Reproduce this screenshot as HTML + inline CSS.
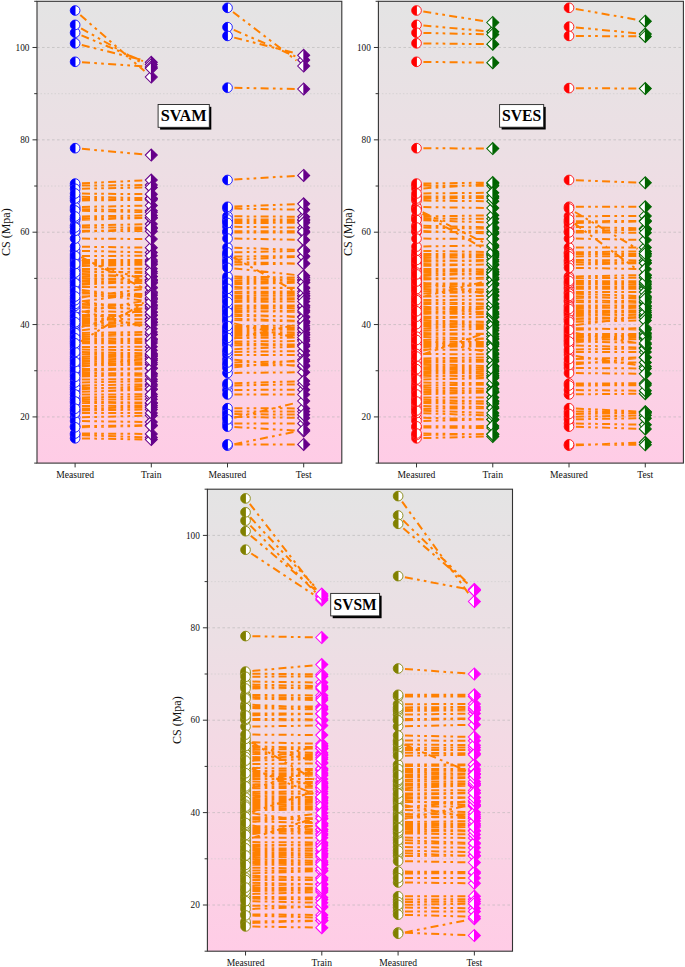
<!DOCTYPE html><html><head><meta charset="utf-8"><style>html,body{margin:0;padding:0;background:#fff;width:685px;height:967px;overflow:hidden}svg{display:block}text{font-family:"Liberation Serif",serif}</style></head><body>
<svg width="685" height="967" viewBox="0 0 685 967">
<svg width="0" height="0" style="position:absolute"><defs><g id="c_0000ff"><circle r="4.85" fill="#fff"/><path d="M0.4 -4.833A4.85 4.85 0 1 0 0.4 4.833Z" fill="#0000ff"/><circle r="4.85" fill="none" stroke="#0000ff" stroke-width="0.85"/></g><g id="d_66008a"><path d="M-6.0 0L0 -6.0L6.0 0L0 6.0Z" fill="#fff"/><path d="M-0.4 -5.6L0 -6.0L6.0 0L0 6.0L-0.4 5.6Z" fill="#66008a"/><path d="M0 -6.0L6.0 0L0 6.0L-6.0 0Z" fill="none" stroke="#66008a" stroke-width="1.05"/></g><g id="c_ff0000"><circle r="4.85" fill="#fff"/><path d="M0.4 -4.833A4.85 4.85 0 1 0 0.4 4.833Z" fill="#ff0000"/><circle r="4.85" fill="none" stroke="#ff0000" stroke-width="0.85"/></g><g id="d_006400"><path d="M-6.0 0L0 -6.0L6.0 0L0 6.0Z" fill="#fff"/><path d="M-0.4 -5.6L0 -6.0L6.0 0L0 6.0L-0.4 5.6Z" fill="#006400"/><path d="M0 -6.0L6.0 0L0 6.0L-6.0 0Z" fill="none" stroke="#006400" stroke-width="1.05"/></g><g id="c_808000"><circle r="4.85" fill="#fff"/><path d="M0.4 -4.833A4.85 4.85 0 1 0 0.4 4.833Z" fill="#808000"/><circle r="4.85" fill="none" stroke="#808000" stroke-width="0.85"/></g><g id="d_ff00ff"><path d="M-6.0 0L0 -6.0L6.0 0L0 6.0Z" fill="#fff"/><path d="M-0.4 -5.6L0 -6.0L6.0 0L0 6.0L-0.4 5.6Z" fill="#ff00ff"/><path d="M0 -6.0L6.0 0L0 6.0L-6.0 0Z" fill="none" stroke="#ff00ff" stroke-width="1.05"/></g></defs></svg>
<defs><linearGradient id="bg" x1="0" y1="0" x2="0" y2="1"><stop offset="0" stop-color="#e4e4e4"/><stop offset="0.33" stop-color="rgb(236,223,228)"/><stop offset="0.65" stop-color="rgb(247,215,228)"/><stop offset="1" stop-color="#ffcce6"/></linearGradient>
</defs>
<rect x="37.0" y="1.3" width="304.80" height="461.80" fill="url(#bg)"/>
<line x1="37.0" y1="416.92" x2="341.8" y2="416.92" stroke="#b0b0b0" stroke-width="0.55" stroke-dasharray="2.6 2.4"/>
<line x1="37.0" y1="370.74" x2="341.8" y2="370.74" stroke="#c8c8c8" stroke-width="0.55" stroke-dasharray="1.5 2"/>
<line x1="37.0" y1="324.56" x2="341.8" y2="324.56" stroke="#b0b0b0" stroke-width="0.55" stroke-dasharray="2.6 2.4"/>
<line x1="37.0" y1="278.38" x2="341.8" y2="278.38" stroke="#c8c8c8" stroke-width="0.55" stroke-dasharray="1.5 2"/>
<line x1="37.0" y1="232.20" x2="341.8" y2="232.20" stroke="#b0b0b0" stroke-width="0.55" stroke-dasharray="2.6 2.4"/>
<line x1="37.0" y1="186.02" x2="341.8" y2="186.02" stroke="#c8c8c8" stroke-width="0.55" stroke-dasharray="1.5 2"/>
<line x1="37.0" y1="139.84" x2="341.8" y2="139.84" stroke="#b0b0b0" stroke-width="0.55" stroke-dasharray="2.6 2.4"/>
<line x1="37.0" y1="93.66" x2="341.8" y2="93.66" stroke="#c8c8c8" stroke-width="0.55" stroke-dasharray="1.5 2"/>
<line x1="37.0" y1="47.48" x2="341.8" y2="47.48" stroke="#b0b0b0" stroke-width="0.55" stroke-dasharray="2.6 2.4"/>
<rect x="378.4" y="1.3" width="305.00" height="461.80" fill="url(#bg)"/>
<line x1="378.4" y1="416.92" x2="683.4" y2="416.92" stroke="#b0b0b0" stroke-width="0.55" stroke-dasharray="2.6 2.4"/>
<line x1="378.4" y1="370.74" x2="683.4" y2="370.74" stroke="#c8c8c8" stroke-width="0.55" stroke-dasharray="1.5 2"/>
<line x1="378.4" y1="324.56" x2="683.4" y2="324.56" stroke="#b0b0b0" stroke-width="0.55" stroke-dasharray="2.6 2.4"/>
<line x1="378.4" y1="278.38" x2="683.4" y2="278.38" stroke="#c8c8c8" stroke-width="0.55" stroke-dasharray="1.5 2"/>
<line x1="378.4" y1="232.20" x2="683.4" y2="232.20" stroke="#b0b0b0" stroke-width="0.55" stroke-dasharray="2.6 2.4"/>
<line x1="378.4" y1="186.02" x2="683.4" y2="186.02" stroke="#c8c8c8" stroke-width="0.55" stroke-dasharray="1.5 2"/>
<line x1="378.4" y1="139.84" x2="683.4" y2="139.84" stroke="#b0b0b0" stroke-width="0.55" stroke-dasharray="2.6 2.4"/>
<line x1="378.4" y1="93.66" x2="683.4" y2="93.66" stroke="#c8c8c8" stroke-width="0.55" stroke-dasharray="1.5 2"/>
<line x1="378.4" y1="47.48" x2="683.4" y2="47.48" stroke="#b0b0b0" stroke-width="0.55" stroke-dasharray="2.6 2.4"/>
<rect x="207.4" y="489.2" width="305.10" height="462.00" fill="url(#bg)"/>
<line x1="207.4" y1="905.00" x2="512.5" y2="905.00" stroke="#b0b0b0" stroke-width="0.55" stroke-dasharray="2.6 2.4"/>
<line x1="207.4" y1="858.80" x2="512.5" y2="858.80" stroke="#c8c8c8" stroke-width="0.55" stroke-dasharray="1.5 2"/>
<line x1="207.4" y1="812.60" x2="512.5" y2="812.60" stroke="#b0b0b0" stroke-width="0.55" stroke-dasharray="2.6 2.4"/>
<line x1="207.4" y1="766.40" x2="512.5" y2="766.40" stroke="#c8c8c8" stroke-width="0.55" stroke-dasharray="1.5 2"/>
<line x1="207.4" y1="720.20" x2="512.5" y2="720.20" stroke="#b0b0b0" stroke-width="0.55" stroke-dasharray="2.6 2.4"/>
<line x1="207.4" y1="674.00" x2="512.5" y2="674.00" stroke="#c8c8c8" stroke-width="0.55" stroke-dasharray="1.5 2"/>
<line x1="207.4" y1="627.80" x2="512.5" y2="627.80" stroke="#b0b0b0" stroke-width="0.55" stroke-dasharray="2.6 2.4"/>
<line x1="207.4" y1="581.60" x2="512.5" y2="581.60" stroke="#c8c8c8" stroke-width="0.55" stroke-dasharray="1.5 2"/>
<line x1="207.4" y1="535.40" x2="512.5" y2="535.40" stroke="#b0b0b0" stroke-width="0.55" stroke-dasharray="2.6 2.4"/>
<path d="M82.0 183.3L142.3 180.5M82.0 185.6L142.3 185.1M82.0 188.7L142.3 187.6M82.0 193.6L142.3 194.1M82.0 196.7L142.3 198.1M82.0 198.5L142.3 198.6M82.0 200.4L142.3 199.9M82.0 206.9L142.3 205.7M82.0 209.2L142.3 210.5M82.0 210.7L142.3 212.1M82.0 216.4L142.3 215.6M82.0 218.4L142.3 217.9M82.0 219.8L142.3 218.1M82.0 225.4L142.3 224.3M82.0 227.5L142.3 227.6M82.0 230.8L142.3 231.1M82.0 231.7L142.3 228.9M82.0 238.6L142.3 239.0M82.0 246.7L142.3 247.6M82.0 250.9L142.3 252.2M81.3 257.1L143.2 288.0M82.0 256.0L142.3 255.8M81.7 260.1L142.7 279.3M82.0 260.0L142.3 260.1M82.0 262.0L142.3 261.7M82.0 263.9L142.3 263.2M82.0 265.9L142.3 264.7M82.0 269.0L142.3 268.7M82.0 271.0L142.3 273.0M82.0 272.5L142.3 271.7M82.0 274.6L142.3 276.1M82.0 276.2L142.3 276.4M82.0 278.2L142.3 279.8M82.0 279.8L142.3 279.8M82.0 281.6L142.3 282.5M82.0 283.2L142.3 282.9M82.0 284.7L142.3 281.1M82.0 287.1L142.3 287.2M81.9 289.9L142.4 297.4M81.9 292.0L142.4 300.6M82.0 293.5L142.3 293.9M82.0 296.4L142.3 295.7M81.9 297.4L142.4 289.1M81.9 301.3L142.4 310.8M82.0 301.2L142.4 293.9M82.0 304.0L142.3 305.1M82.0 305.7L142.3 305.1M82.0 307.7L142.3 308.6M81.8 311.1L142.6 326.6M82.0 311.4L142.3 311.9M81.9 311.9L142.4 301.3M82.0 315.0L142.3 315.0M82.0 316.6L142.3 315.5M82.0 318.6L142.3 319.3M82.0 320.3L142.3 319.2M82.0 322.3L142.3 322.4M82.0 324.0L142.3 322.6M82.0 325.9L142.3 325.2M81.7 327.1L142.7 309.4M82.0 330.2L142.4 323.1M82.0 332.9L142.3 332.1M82.0 334.9L142.3 334.4M82.0 336.5L142.3 334.7M82.0 338.4L142.3 338.8M82.0 339.9L142.3 339.3M82.0 341.6L142.3 341.0M82.0 343.3L142.3 343.0M81.0 341.4L143.6 302.7M82.0 347.0L142.3 346.8M82.0 349.6L142.3 350.2M82.0 352.1L142.3 353.2M82.0 354.0L142.3 354.5M82.0 356.4L142.3 355.8M82.0 358.3L142.3 356.7M82.0 360.1L142.3 359.1M82.0 361.9L142.3 360.7M82.0 363.7L142.3 362.9M82.0 365.5L142.3 364.7M82.0 366.6L142.4 359.5M82.0 369.1L142.3 368.3M82.0 370.9L142.3 368.9M82.0 373.0L142.3 373.4M82.0 375.0L142.3 375.7M82.0 376.6L142.3 374.4M82.0 379.5L142.3 379.2M82.0 382.4L142.3 381.3M82.0 385.4L142.3 384.4M82.0 387.6L142.3 388.9M82.0 389.2L142.3 386.5M82.0 391.8L142.3 389.8M82.0 394.5L142.3 394.3M82.0 397.4L142.3 396.6M82.0 399.5L142.3 399.3M82.0 401.6L142.3 402.6M82.0 403.0L142.3 403.1M82.0 406.0L142.3 405.5M82.0 408.6L142.3 407.3M82.0 410.4L142.3 409.6M82.0 413.0L142.3 412.9M82.0 417.3L142.3 415.8M82.0 421.1L142.3 421.9M82.0 426.2L142.3 425.3M82.0 427.2L142.3 425.9M82.0 433.5L142.3 433.9M82.0 435.2L142.3 437.2M82.0 438.4L142.3 439.4M80.3 15.1L144.5 71.1M81.1 28.3L143.5 63.8M81.5 35.4L143.0 61.1M81.8 45.0L142.6 60.1M82.0 62.3L142.3 66.3M82.0 148.8L142.3 154.3" stroke="#ff8000" stroke-width="2" fill="none" stroke-dasharray="8 4.3 2.7 4.2 2.7 4.3"/>
<use href="#c_0000ff" x="75.1" y="392.0"/><use href="#c_0000ff" x="75.1" y="307.6"/><use href="#c_0000ff" x="75.1" y="313.1"/><use href="#c_0000ff" x="75.1" y="287.1"/><use href="#c_0000ff" x="75.1" y="209.0"/><use href="#c_0000ff" x="75.1" y="336.7"/><use href="#c_0000ff" x="75.1" y="196.5"/><use href="#c_0000ff" x="75.1" y="365.6"/><use href="#c_0000ff" x="75.1" y="385.5"/><use href="#c_0000ff" x="75.1" y="435.0"/><use href="#c_0000ff" x="75.1" y="302.1"/><use href="#c_0000ff" x="75.1" y="426.3"/><use href="#c_0000ff" x="75.1" y="335.0"/><use href="#c_0000ff" x="75.1" y="367.4"/><use href="#c_0000ff" x="75.1" y="438.3"/><use href="#c_0000ff" x="75.1" y="315.0"/><use href="#c_0000ff" x="75.1" y="254.0"/><use href="#c_0000ff" x="75.1" y="311.3"/><use href="#c_0000ff" x="75.1" y="43.3"/><use href="#c_0000ff" x="75.1" y="279.8"/><use href="#c_0000ff" x="75.1" y="298.4"/><use href="#c_0000ff" x="75.1" y="185.6"/><use href="#c_0000ff" x="75.1" y="329.0"/><use href="#c_0000ff" x="75.1" y="340.0"/><use href="#c_0000ff" x="75.1" y="433.5"/><use href="#c_0000ff" x="75.1" y="399.5"/><use href="#c_0000ff" x="75.1" y="358.5"/><use href="#c_0000ff" x="75.1" y="258.0"/><use href="#c_0000ff" x="75.1" y="326.0"/><use href="#c_0000ff" x="75.1" y="373.0"/><use href="#c_0000ff" x="75.1" y="225.5"/><use href="#c_0000ff" x="75.1" y="354.0"/><use href="#c_0000ff" x="75.1" y="379.5"/><use href="#c_0000ff" x="75.1" y="32.7"/><use href="#c_0000ff" x="75.1" y="389.5"/><use href="#c_0000ff" x="75.1" y="274.4"/><use href="#c_0000ff" x="75.1" y="10.5"/><use href="#c_0000ff" x="75.1" y="331.0"/><use href="#c_0000ff" x="75.1" y="417.5"/><use href="#c_0000ff" x="75.1" y="266.0"/><use href="#c_0000ff" x="75.1" y="397.5"/><use href="#c_0000ff" x="75.1" y="387.5"/><use href="#c_0000ff" x="75.1" y="289.1"/><use href="#c_0000ff" x="75.1" y="360.2"/><use href="#c_0000ff" x="75.1" y="183.6"/><use href="#c_0000ff" x="75.1" y="320.4"/><use href="#c_0000ff" x="75.1" y="363.8"/><use href="#c_0000ff" x="75.1" y="270.8"/><use href="#c_0000ff" x="75.1" y="309.4"/><use href="#c_0000ff" x="75.1" y="305.8"/><use href="#c_0000ff" x="75.1" y="148.2"/><use href="#c_0000ff" x="75.1" y="394.5"/><use href="#c_0000ff" x="75.1" y="260.0"/><use href="#c_0000ff" x="75.1" y="410.5"/><use href="#c_0000ff" x="75.1" y="269.0"/><use href="#c_0000ff" x="75.1" y="61.8"/><use href="#c_0000ff" x="75.1" y="371.1"/><use href="#c_0000ff" x="75.1" y="220.0"/><use href="#c_0000ff" x="75.1" y="218.5"/><use href="#c_0000ff" x="75.1" y="200.5"/><use href="#c_0000ff" x="75.1" y="262.0"/><use href="#c_0000ff" x="75.1" y="250.8"/><use href="#c_0000ff" x="75.1" y="303.9"/><use href="#c_0000ff" x="75.1" y="345.0"/><use href="#c_0000ff" x="75.1" y="382.5"/><use href="#c_0000ff" x="75.1" y="347.0"/><use href="#c_0000ff" x="75.1" y="281.5"/><use href="#c_0000ff" x="75.1" y="278.0"/><use href="#c_0000ff" x="75.1" y="285.1"/><use href="#c_0000ff" x="75.1" y="276.2"/><use href="#c_0000ff" x="75.1" y="324.1"/><use href="#c_0000ff" x="75.1" y="318.6"/><use href="#c_0000ff" x="75.1" y="246.6"/><use href="#c_0000ff" x="75.1" y="421.0"/><use href="#c_0000ff" x="75.1" y="207.0"/><use href="#c_0000ff" x="75.1" y="374.9"/><use href="#c_0000ff" x="75.1" y="369.2"/><use href="#c_0000ff" x="75.1" y="333.0"/><use href="#c_0000ff" x="75.1" y="210.5"/><use href="#c_0000ff" x="75.1" y="256.0"/><use href="#c_0000ff" x="75.1" y="216.5"/><use href="#c_0000ff" x="75.1" y="198.5"/><use href="#c_0000ff" x="75.1" y="293.5"/><use href="#c_0000ff" x="75.1" y="356.5"/><use href="#c_0000ff" x="75.1" y="341.7"/><use href="#c_0000ff" x="75.1" y="232.0"/><use href="#c_0000ff" x="75.1" y="283.2"/><use href="#c_0000ff" x="75.1" y="338.3"/><use href="#c_0000ff" x="75.1" y="403.0"/><use href="#c_0000ff" x="75.1" y="316.7"/><use href="#c_0000ff" x="75.1" y="188.8"/><use href="#c_0000ff" x="75.1" y="291.0"/><use href="#c_0000ff" x="75.1" y="24.9"/><use href="#c_0000ff" x="75.1" y="362.0"/><use href="#c_0000ff" x="75.1" y="427.3"/><use href="#c_0000ff" x="75.1" y="238.6"/><use href="#c_0000ff" x="75.1" y="272.6"/><use href="#c_0000ff" x="75.1" y="230.8"/><use href="#c_0000ff" x="75.1" y="376.8"/><use href="#c_0000ff" x="75.1" y="193.5"/><use href="#c_0000ff" x="75.1" y="406.0"/><use href="#c_0000ff" x="75.1" y="264.0"/><use href="#c_0000ff" x="75.1" y="349.5"/><use href="#c_0000ff" x="75.1" y="300.2"/><use href="#c_0000ff" x="75.1" y="413.0"/><use href="#c_0000ff" x="75.1" y="352.0"/><use href="#c_0000ff" x="75.1" y="322.3"/><use href="#c_0000ff" x="75.1" y="296.5"/><use href="#c_0000ff" x="75.1" y="227.5"/><use href="#c_0000ff" x="75.1" y="343.3"/><use href="#c_0000ff" x="75.1" y="401.5"/><use href="#c_0000ff" x="75.1" y="408.7"/>
<use href="#d_66008a" x="151.3" y="389.5"/><use href="#d_66008a" x="151.3" y="308.7"/><use href="#d_66008a" x="151.3" y="299.7"/><use href="#d_66008a" x="151.3" y="287.2"/><use href="#d_66008a" x="151.3" y="210.7"/><use href="#d_66008a" x="151.3" y="334.4"/><use href="#d_66008a" x="151.3" y="198.3"/><use href="#d_66008a" x="151.3" y="364.6"/><use href="#d_66008a" x="151.3" y="384.3"/><use href="#d_66008a" x="151.3" y="437.5"/><use href="#d_66008a" x="151.3" y="292.8"/><use href="#d_66008a" x="151.3" y="425.2"/><use href="#d_66008a" x="151.3" y="334.4"/><use href="#d_66008a" x="151.3" y="358.4"/><use href="#d_66008a" x="151.3" y="439.6"/><use href="#d_66008a" x="151.3" y="315.0"/><use href="#d_66008a" x="151.3" y="292.0"/><use href="#d_66008a" x="151.3" y="312.0"/><use href="#d_66008a" x="151.3" y="62.3"/><use href="#d_66008a" x="151.3" y="279.8"/><use href="#d_66008a" x="151.3" y="287.9"/><use href="#d_66008a" x="151.3" y="185.1"/><use href="#d_66008a" x="151.3" y="306.9"/><use href="#d_66008a" x="151.3" y="339.2"/><use href="#d_66008a" x="151.3" y="433.9"/><use href="#d_66008a" x="151.3" y="399.3"/><use href="#d_66008a" x="151.3" y="356.4"/><use href="#d_66008a" x="151.3" y="282.0"/><use href="#d_66008a" x="151.3" y="325.1"/><use href="#d_66008a" x="151.3" y="373.5"/><use href="#d_66008a" x="151.3" y="224.1"/><use href="#d_66008a" x="151.3" y="354.5"/><use href="#d_66008a" x="151.3" y="379.2"/><use href="#d_66008a" x="151.3" y="64.6"/><use href="#d_66008a" x="151.3" y="386.1"/><use href="#d_66008a" x="151.3" y="276.4"/><use href="#d_66008a" x="151.3" y="77.0"/><use href="#d_66008a" x="151.3" y="322.0"/><use href="#d_66008a" x="151.3" y="415.6"/><use href="#d_66008a" x="151.3" y="264.5"/><use href="#d_66008a" x="151.3" y="396.5"/><use href="#d_66008a" x="151.3" y="389.1"/><use href="#d_66008a" x="151.3" y="298.5"/><use href="#d_66008a" x="151.3" y="358.9"/><use href="#d_66008a" x="151.3" y="180.1"/><use href="#d_66008a" x="151.3" y="319.0"/><use href="#d_66008a" x="151.3" y="362.7"/><use href="#d_66008a" x="151.3" y="273.3"/><use href="#d_66008a" x="151.3" y="328.8"/><use href="#d_66008a" x="151.3" y="305.0"/><use href="#d_66008a" x="151.3" y="155.1"/><use href="#d_66008a" x="151.3" y="394.3"/><use href="#d_66008a" x="151.3" y="260.1"/><use href="#d_66008a" x="151.3" y="409.5"/><use href="#d_66008a" x="151.3" y="268.7"/><use href="#d_66008a" x="151.3" y="66.9"/><use href="#d_66008a" x="151.3" y="368.6"/><use href="#d_66008a" x="151.3" y="217.9"/><use href="#d_66008a" x="151.3" y="217.8"/><use href="#d_66008a" x="151.3" y="199.8"/><use href="#d_66008a" x="151.3" y="261.6"/><use href="#d_66008a" x="151.3" y="252.4"/><use href="#d_66008a" x="151.3" y="305.3"/><use href="#d_66008a" x="151.3" y="298.0"/><use href="#d_66008a" x="151.3" y="381.2"/><use href="#d_66008a" x="151.3" y="346.7"/><use href="#d_66008a" x="151.3" y="282.6"/><use href="#d_66008a" x="151.3" y="280.0"/><use href="#d_66008a" x="151.3" y="280.6"/><use href="#d_66008a" x="151.3" y="276.4"/><use href="#d_66008a" x="151.3" y="322.4"/><use href="#d_66008a" x="151.3" y="319.4"/><use href="#d_66008a" x="151.3" y="247.7"/><use href="#d_66008a" x="151.3" y="422.1"/><use href="#d_66008a" x="151.3" y="205.5"/><use href="#d_66008a" x="151.3" y="375.9"/><use href="#d_66008a" x="151.3" y="368.1"/><use href="#d_66008a" x="151.3" y="331.9"/><use href="#d_66008a" x="151.3" y="212.3"/><use href="#d_66008a" x="151.3" y="255.8"/><use href="#d_66008a" x="151.3" y="215.5"/><use href="#d_66008a" x="151.3" y="198.6"/><use href="#d_66008a" x="151.3" y="293.9"/><use href="#d_66008a" x="151.3" y="355.7"/><use href="#d_66008a" x="151.3" y="341.0"/><use href="#d_66008a" x="151.3" y="228.4"/><use href="#d_66008a" x="151.3" y="282.9"/><use href="#d_66008a" x="151.3" y="338.9"/><use href="#d_66008a" x="151.3" y="403.2"/><use href="#d_66008a" x="151.3" y="315.4"/><use href="#d_66008a" x="151.3" y="187.4"/><use href="#d_66008a" x="151.3" y="301.9"/><use href="#d_66008a" x="151.3" y="68.3"/><use href="#d_66008a" x="151.3" y="360.5"/><use href="#d_66008a" x="151.3" y="425.8"/><use href="#d_66008a" x="151.3" y="239.0"/><use href="#d_66008a" x="151.3" y="271.6"/><use href="#d_66008a" x="151.3" y="231.2"/><use href="#d_66008a" x="151.3" y="374.1"/><use href="#d_66008a" x="151.3" y="194.2"/><use href="#d_66008a" x="151.3" y="405.5"/><use href="#d_66008a" x="151.3" y="263.0"/><use href="#d_66008a" x="151.3" y="350.3"/><use href="#d_66008a" x="151.3" y="312.2"/><use href="#d_66008a" x="151.3" y="412.9"/><use href="#d_66008a" x="151.3" y="353.4"/><use href="#d_66008a" x="151.3" y="322.5"/><use href="#d_66008a" x="151.3" y="295.6"/><use href="#d_66008a" x="151.3" y="227.6"/><use href="#d_66008a" x="151.3" y="342.9"/><use href="#d_66008a" x="151.3" y="402.7"/><use href="#d_66008a" x="151.3" y="407.2"/>
<path d="M234.4 206.5L294.7 204.2M234.4 208.6L294.7 209.6M234.4 216.3L294.7 216.7M234.4 219.5L294.7 219.4M234.4 221.2L294.7 220.7M234.4 223.0L294.7 222.8M234.4 226.8L294.7 227.6M234.4 231.2L294.7 231.3M234.4 232.4L294.7 232.5M234.4 238.6L294.7 239.7M234.4 247.7L294.7 249.8M234.4 252.3L294.7 251.1M233.5 257.3L295.8 291.7M234.4 256.4L294.7 256.3M234.4 259.7L294.7 257.0M234.4 262.1L294.7 263.4M234.4 264.6L294.7 263.7M234.4 268.5L294.7 274.9M234.4 276.6L294.7 277.5M234.4 278.4L294.7 279.7M234.4 280.9L294.7 280.2M234.4 282.7L294.7 282.3M234.4 284.2L294.7 282.7M234.4 287.1L294.7 288.0M234.4 288.7L294.7 287.7M234.4 291.9L294.7 291.5M234.4 293.5L294.7 293.5M234.4 296.0L294.7 295.6M234.4 298.0L294.7 298.3M234.4 300.3L294.7 299.0M234.4 301.9L294.7 301.5M234.4 305.5L294.7 305.6M234.4 306.9L294.7 306.1M234.4 308.9L294.7 308.0M234.4 310.9L294.7 311.8M234.4 312.1L294.7 310.6M234.4 314.3L294.7 316.9M234.4 316.0L294.7 316.4M234.4 318.7L294.7 320.8M234.4 320.0L294.7 321.3M234.2 323.4L294.9 337.6M234.4 326.0L294.7 325.8M234.4 328.0L294.7 328.1M234.4 330.0L294.7 329.7M234.4 332.0L294.7 332.4M234.4 334.0L294.7 334.3M234.4 335.9L294.7 335.0M234.4 338.0L294.7 337.6M234.2 338.5L294.9 325.0M234.4 341.5L294.7 341.1M234.4 343.6L294.7 344.6M234.4 345.3L294.7 345.0M234.4 349.2L294.7 346.7M234.4 351.9L294.7 351.2M234.4 355.0L294.7 355.1M234.4 359.7L294.7 365.8M234.4 362.4L294.7 361.4M234.4 365.0L294.7 365.3M234.4 367.3L294.8 360.7M234.4 372.9L294.7 372.3M234.4 383.3L294.7 381.4M234.4 385.4L294.7 384.4M234.4 390.0L294.7 389.7M234.4 394.4L294.7 394.5M234.4 408.2L294.7 408.4M234.4 411.5L294.7 411.5M234.4 414.1L294.7 414.6M234.4 416.9L294.7 417.8M234.2 417.8L295.0 403.1M234.4 423.4L294.7 423.4M234.4 427.0L294.7 430.5M234.4 444.4L294.7 444.4M234.3 444.2L294.9 431.8M233.0 12.0L296.5 60.5M233.8 29.9L295.4 56.4M234.2 37.6L295.0 53.1M234.4 87.8L294.7 88.9M234.4 179.6L294.7 175.9" stroke="#ff8000" stroke-width="2" fill="none" stroke-dasharray="8 4.3 2.7 4.2 2.7 4.3"/>
<use href="#c_0000ff" x="227.5" y="336.0"/><use href="#c_0000ff" x="227.5" y="423.4"/><use href="#c_0000ff" x="227.5" y="426.6"/><use href="#c_0000ff" x="227.5" y="221.3"/><use href="#c_0000ff" x="227.5" y="216.2"/><use href="#c_0000ff" x="227.5" y="411.5"/><use href="#c_0000ff" x="227.5" y="390.0"/><use href="#c_0000ff" x="227.5" y="278.3"/><use href="#c_0000ff" x="227.5" y="256.4"/><use href="#c_0000ff" x="227.5" y="385.5"/><use href="#c_0000ff" x="227.5" y="316.0"/><use href="#c_0000ff" x="227.5" y="328.0"/><use href="#c_0000ff" x="227.5" y="359.0"/><use href="#c_0000ff" x="227.5" y="373.0"/><use href="#c_0000ff" x="227.5" y="254.0"/><use href="#c_0000ff" x="227.5" y="300.5"/><use href="#c_0000ff" x="227.5" y="292.0"/><use href="#c_0000ff" x="227.5" y="332.0"/><use href="#c_0000ff" x="227.5" y="232.4"/><use href="#c_0000ff" x="227.5" y="340.0"/><use href="#c_0000ff" x="227.5" y="281.0"/><use href="#c_0000ff" x="227.5" y="334.0"/><use href="#c_0000ff" x="227.5" y="284.4"/><use href="#c_0000ff" x="227.5" y="355.0"/><use href="#c_0000ff" x="227.5" y="309.0"/><use href="#c_0000ff" x="227.5" y="226.7"/><use href="#c_0000ff" x="227.5" y="445.6"/><use href="#c_0000ff" x="227.5" y="307.0"/><use href="#c_0000ff" x="227.5" y="287.0"/><use href="#c_0000ff" x="227.5" y="296.0"/><use href="#c_0000ff" x="227.5" y="321.8"/><use href="#c_0000ff" x="227.5" y="180.0"/><use href="#c_0000ff" x="227.5" y="208.5"/><use href="#c_0000ff" x="227.5" y="87.7"/><use href="#c_0000ff" x="227.5" y="231.2"/><use href="#c_0000ff" x="227.5" y="352.0"/><use href="#c_0000ff" x="227.5" y="276.5"/><use href="#c_0000ff" x="227.5" y="219.5"/><use href="#c_0000ff" x="227.5" y="416.8"/><use href="#c_0000ff" x="227.5" y="444.4"/><use href="#c_0000ff" x="227.5" y="293.5"/><use href="#c_0000ff" x="227.5" y="365.0"/><use href="#c_0000ff" x="227.5" y="345.3"/><use href="#c_0000ff" x="227.5" y="408.2"/><use href="#c_0000ff" x="227.5" y="383.5"/><use href="#c_0000ff" x="227.5" y="298.0"/><use href="#c_0000ff" x="227.5" y="260.0"/><use href="#c_0000ff" x="227.5" y="27.2"/><use href="#c_0000ff" x="227.5" y="264.7"/><use href="#c_0000ff" x="227.5" y="247.5"/><use href="#c_0000ff" x="227.5" y="238.5"/><use href="#c_0000ff" x="227.5" y="206.8"/><use href="#c_0000ff" x="227.5" y="414.0"/><use href="#c_0000ff" x="227.5" y="252.4"/><use href="#c_0000ff" x="227.5" y="319.8"/><use href="#c_0000ff" x="227.5" y="262.0"/><use href="#c_0000ff" x="227.5" y="343.5"/><use href="#c_0000ff" x="227.5" y="282.7"/><use href="#c_0000ff" x="227.5" y="310.8"/><use href="#c_0000ff" x="227.5" y="368.0"/><use href="#c_0000ff" x="227.5" y="330.0"/><use href="#c_0000ff" x="227.5" y="314.0"/><use href="#c_0000ff" x="227.5" y="362.5"/><use href="#c_0000ff" x="227.5" y="419.4"/><use href="#c_0000ff" x="227.5" y="7.8"/><use href="#c_0000ff" x="227.5" y="305.5"/><use href="#c_0000ff" x="227.5" y="318.5"/><use href="#c_0000ff" x="227.5" y="326.0"/><use href="#c_0000ff" x="227.5" y="223.0"/><use href="#c_0000ff" x="227.5" y="288.8"/><use href="#c_0000ff" x="227.5" y="341.5"/><use href="#c_0000ff" x="227.5" y="267.8"/><use href="#c_0000ff" x="227.5" y="312.3"/><use href="#c_0000ff" x="227.5" y="302.0"/><use href="#c_0000ff" x="227.5" y="349.5"/><use href="#c_0000ff" x="227.5" y="394.4"/><use href="#c_0000ff" x="227.5" y="338.0"/><use href="#c_0000ff" x="227.5" y="35.9"/>
<use href="#d_66008a" x="303.7" y="334.9"/><use href="#d_66008a" x="303.7" y="423.4"/><use href="#d_66008a" x="303.7" y="431.0"/><use href="#d_66008a" x="303.7" y="220.7"/><use href="#d_66008a" x="303.7" y="216.8"/><use href="#d_66008a" x="303.7" y="411.5"/><use href="#d_66008a" x="303.7" y="389.7"/><use href="#d_66008a" x="303.7" y="279.9"/><use href="#d_66008a" x="303.7" y="256.3"/><use href="#d_66008a" x="303.7" y="384.2"/><use href="#d_66008a" x="303.7" y="316.5"/><use href="#d_66008a" x="303.7" y="328.1"/><use href="#d_66008a" x="303.7" y="366.6"/><use href="#d_66008a" x="303.7" y="372.2"/><use href="#d_66008a" x="303.7" y="296.0"/><use href="#d_66008a" x="303.7" y="298.8"/><use href="#d_66008a" x="303.7" y="291.4"/><use href="#d_66008a" x="303.7" y="332.4"/><use href="#d_66008a" x="303.7" y="232.5"/><use href="#d_66008a" x="303.7" y="323.1"/><use href="#d_66008a" x="303.7" y="280.1"/><use href="#d_66008a" x="303.7" y="334.3"/><use href="#d_66008a" x="303.7" y="282.4"/><use href="#d_66008a" x="303.7" y="355.1"/><use href="#d_66008a" x="303.7" y="307.8"/><use href="#d_66008a" x="303.7" y="227.8"/><use href="#d_66008a" x="303.7" y="430.0"/><use href="#d_66008a" x="303.7" y="306.0"/><use href="#d_66008a" x="303.7" y="288.2"/><use href="#d_66008a" x="303.7" y="295.6"/><use href="#d_66008a" x="303.7" y="339.6"/><use href="#d_66008a" x="303.7" y="175.4"/><use href="#d_66008a" x="303.7" y="209.8"/><use href="#d_66008a" x="303.7" y="89.0"/><use href="#d_66008a" x="303.7" y="231.3"/><use href="#d_66008a" x="303.7" y="351.1"/><use href="#d_66008a" x="303.7" y="277.6"/><use href="#d_66008a" x="303.7" y="219.4"/><use href="#d_66008a" x="303.7" y="418.0"/><use href="#d_66008a" x="303.7" y="444.4"/><use href="#d_66008a" x="303.7" y="293.5"/><use href="#d_66008a" x="303.7" y="365.3"/><use href="#d_66008a" x="303.7" y="344.9"/><use href="#d_66008a" x="303.7" y="408.4"/><use href="#d_66008a" x="303.7" y="381.1"/><use href="#d_66008a" x="303.7" y="298.3"/><use href="#d_66008a" x="303.7" y="256.6"/><use href="#d_66008a" x="303.7" y="59.9"/><use href="#d_66008a" x="303.7" y="263.6"/><use href="#d_66008a" x="303.7" y="250.1"/><use href="#d_66008a" x="303.7" y="239.9"/><use href="#d_66008a" x="303.7" y="203.8"/><use href="#d_66008a" x="303.7" y="414.7"/><use href="#d_66008a" x="303.7" y="251.0"/><use href="#d_66008a" x="303.7" y="321.5"/><use href="#d_66008a" x="303.7" y="263.6"/><use href="#d_66008a" x="303.7" y="344.8"/><use href="#d_66008a" x="303.7" y="282.3"/><use href="#d_66008a" x="303.7" y="311.9"/><use href="#d_66008a" x="303.7" y="359.7"/><use href="#d_66008a" x="303.7" y="329.7"/><use href="#d_66008a" x="303.7" y="317.3"/><use href="#d_66008a" x="303.7" y="361.3"/><use href="#d_66008a" x="303.7" y="401.0"/><use href="#d_66008a" x="303.7" y="66.0"/><use href="#d_66008a" x="303.7" y="305.6"/><use href="#d_66008a" x="303.7" y="321.2"/><use href="#d_66008a" x="303.7" y="325.8"/><use href="#d_66008a" x="303.7" y="222.8"/><use href="#d_66008a" x="303.7" y="287.5"/><use href="#d_66008a" x="303.7" y="341.1"/><use href="#d_66008a" x="303.7" y="275.8"/><use href="#d_66008a" x="303.7" y="310.3"/><use href="#d_66008a" x="303.7" y="301.4"/><use href="#d_66008a" x="303.7" y="346.4"/><use href="#d_66008a" x="303.7" y="394.5"/><use href="#d_66008a" x="303.7" y="337.5"/><use href="#d_66008a" x="303.7" y="55.3"/>
<path d="M423.4 183.5L483.8 182.7M423.4 185.6L483.8 185.8M423.4 188.4L483.8 184.4M423.4 193.4L483.8 192.8M423.4 196.5L483.8 196.3M423.4 198.4L483.8 197.9M423.4 200.6L483.8 201.2M423.4 207.1L483.8 207.9M422.7 212.1L484.7 243.0M422.5 213.9L484.9 249.1M423.4 216.4L483.8 215.5M423.4 218.5L483.8 218.8M423.4 220.2L483.8 222.3M423.4 225.7L483.8 227.2M423.4 227.6L483.8 228.6M423.4 231.1L483.8 233.3M423.4 232.0L483.8 232.1M423.4 238.6L483.8 239.0M423.4 246.5L483.8 245.4M423.4 250.9L483.8 251.9M423.4 254.0L483.8 254.3M423.4 255.9L483.8 255.3M423.4 257.9L483.8 257.1M423.4 260.1L483.8 261.3M423.4 261.8L483.8 260.1M423.4 264.1L483.8 264.8M423.4 265.8L483.8 264.5M423.4 269.0L483.8 269.4M423.4 270.9L483.8 271.3M423.4 272.8L483.8 274.2M423.4 274.4L483.8 274.6M423.4 275.9L483.8 273.1M423.4 278.1L483.8 278.8M423.4 279.6L483.8 277.8M423.3 282.7L483.9 293.7M423.4 283.3L483.8 283.7M423.4 285.0L483.8 283.7M423.4 286.9L483.8 285.3M423.4 289.1L483.8 289.4M423.4 291.1L483.8 291.7M423.4 293.4L483.8 292.1M423.4 296.5L483.8 296.0M423.2 296.7L484.0 281.7M423.4 300.1L483.8 299.6M423.4 302.2L483.8 303.5M423.4 303.9L483.8 304.0M423.4 306.5L483.8 312.8M423.4 307.5L483.8 306.6M423.4 309.4L483.8 308.5M423.4 311.4L483.8 311.8M423.4 313.3L483.8 314.3M423.4 314.3L483.8 308.4M423.4 316.7L483.8 317.2M423.4 318.4L483.8 317.0M423.4 320.5L483.8 321.7M423.4 322.3L483.8 322.6M423.4 324.2L483.8 324.8M423.4 326.1L483.8 327.3M423.4 328.6L483.8 325.5M423.4 330.8L483.8 328.8M423.4 333.1L483.8 333.8M423.4 334.9L483.8 334.0M423.4 336.9L483.8 339.0M423.3 339.7L483.9 351.5M423.4 339.9L483.8 338.6M423.4 341.7L483.8 342.1M423.4 343.4L483.8 343.8M423.4 345.0L483.8 344.7M423.4 346.9L483.8 346.4M423.4 349.5L483.8 350.0M423.3 350.6L484.0 338.3M423.4 354.0L483.8 354.3M423.1 354.3L484.3 333.4M423.4 358.4L483.8 357.5M423.4 360.2L483.8 360.1M423.4 362.0L483.8 361.7M423.4 364.0L483.8 365.9M423.4 365.6L483.8 366.1M423.4 367.5L483.8 367.9M423.4 369.3L483.8 369.9M423.4 371.1L483.8 371.2M423.4 373.0L483.8 373.4M423.4 375.1L483.8 376.8M423.4 376.7L483.8 375.6M423.4 379.4L483.8 378.3M423.4 382.6L483.8 383.1M423.4 385.4L483.8 384.7M423.4 387.6L483.8 388.7M423.4 389.7L483.8 391.1M423.4 392.0L483.8 392.2M423.4 394.3L483.8 392.5M423.4 397.5L483.8 397.6M423.4 399.7L483.8 401.4M423.4 401.5L483.8 401.2M423.4 403.1L483.8 403.7M423.4 406.1L483.8 406.9M423.4 408.7L483.8 408.2M423.4 410.7L483.8 412.7M423.4 413.2L483.8 415.3M423.4 417.7L483.8 419.3M423.4 420.9L483.8 419.6M423.4 426.3L483.8 426.1M423.4 427.4L483.8 428.0M423.4 433.6L483.8 434.3M423.4 434.9L483.8 434.1M423.4 438.1L483.8 436.6M423.3 11.6L483.9 21.1M423.4 25.5L483.8 31.0M423.4 32.9L483.8 34.3M423.4 43.4L483.8 44.1M423.4 61.9L483.8 62.6M423.4 148.2L483.8 148.6" stroke="#ff8000" stroke-width="2" fill="none" stroke-dasharray="8 4.3 2.7 4.2 2.7 4.3"/>
<use href="#c_ff0000" x="416.5" y="331.0"/><use href="#c_ff0000" x="416.5" y="363.8"/><use href="#c_ff0000" x="416.5" y="374.9"/><use href="#c_ff0000" x="416.5" y="285.1"/><use href="#c_ff0000" x="416.5" y="262.0"/><use href="#c_ff0000" x="416.5" y="335.0"/><use href="#c_ff0000" x="416.5" y="24.9"/><use href="#c_ff0000" x="416.5" y="291.0"/><use href="#c_ff0000" x="416.5" y="338.3"/><use href="#c_ff0000" x="416.5" y="320.4"/><use href="#c_ff0000" x="416.5" y="399.5"/><use href="#c_ff0000" x="416.5" y="307.6"/><use href="#c_ff0000" x="416.5" y="309.4"/><use href="#c_ff0000" x="416.5" y="296.5"/><use href="#c_ff0000" x="416.5" y="326.0"/><use href="#c_ff0000" x="416.5" y="269.0"/><use href="#c_ff0000" x="416.5" y="254.0"/><use href="#c_ff0000" x="416.5" y="345.0"/><use href="#c_ff0000" x="416.5" y="279.8"/><use href="#c_ff0000" x="416.5" y="392.0"/><use href="#c_ff0000" x="416.5" y="185.6"/><use href="#c_ff0000" x="416.5" y="352.0"/><use href="#c_ff0000" x="416.5" y="417.5"/><use href="#c_ff0000" x="416.5" y="403.0"/><use href="#c_ff0000" x="416.5" y="209.0"/><use href="#c_ff0000" x="416.5" y="218.5"/><use href="#c_ff0000" x="416.5" y="362.0"/><use href="#c_ff0000" x="416.5" y="358.5"/><use href="#c_ff0000" x="416.5" y="32.7"/><use href="#c_ff0000" x="416.5" y="293.5"/><use href="#c_ff0000" x="416.5" y="385.5"/><use href="#c_ff0000" x="416.5" y="427.3"/><use href="#c_ff0000" x="416.5" y="278.0"/><use href="#c_ff0000" x="416.5" y="188.8"/><use href="#c_ff0000" x="416.5" y="421.0"/><use href="#c_ff0000" x="416.5" y="376.8"/><use href="#c_ff0000" x="416.5" y="43.3"/><use href="#c_ff0000" x="416.5" y="318.6"/><use href="#c_ff0000" x="416.5" y="183.6"/><use href="#c_ff0000" x="416.5" y="216.5"/><use href="#c_ff0000" x="416.5" y="341.7"/><use href="#c_ff0000" x="416.5" y="283.2"/><use href="#c_ff0000" x="416.5" y="276.2"/><use href="#c_ff0000" x="416.5" y="61.8"/><use href="#c_ff0000" x="416.5" y="196.5"/><use href="#c_ff0000" x="416.5" y="397.5"/><use href="#c_ff0000" x="416.5" y="371.1"/><use href="#c_ff0000" x="416.5" y="387.5"/><use href="#c_ff0000" x="416.5" y="270.8"/><use href="#c_ff0000" x="416.5" y="322.3"/><use href="#c_ff0000" x="416.5" y="343.3"/><use href="#c_ff0000" x="416.5" y="207.0"/><use href="#c_ff0000" x="416.5" y="333.0"/><use href="#c_ff0000" x="416.5" y="256.0"/><use href="#c_ff0000" x="416.5" y="298.4"/><use href="#c_ff0000" x="416.5" y="413.0"/><use href="#c_ff0000" x="416.5" y="287.1"/><use href="#c_ff0000" x="416.5" y="349.5"/><use href="#c_ff0000" x="416.5" y="438.3"/><use href="#c_ff0000" x="416.5" y="225.5"/><use href="#c_ff0000" x="416.5" y="258.0"/><use href="#c_ff0000" x="416.5" y="329.0"/><use href="#c_ff0000" x="416.5" y="302.1"/><use href="#c_ff0000" x="416.5" y="367.4"/><use href="#c_ff0000" x="416.5" y="406.0"/><use href="#c_ff0000" x="416.5" y="220.0"/><use href="#c_ff0000" x="416.5" y="289.1"/><use href="#c_ff0000" x="416.5" y="200.5"/><use href="#c_ff0000" x="416.5" y="360.2"/><use href="#c_ff0000" x="416.5" y="324.1"/><use href="#c_ff0000" x="416.5" y="264.0"/><use href="#c_ff0000" x="416.5" y="435.0"/><use href="#c_ff0000" x="416.5" y="347.0"/><use href="#c_ff0000" x="416.5" y="354.0"/><use href="#c_ff0000" x="416.5" y="232.0"/><use href="#c_ff0000" x="416.5" y="365.6"/><use href="#c_ff0000" x="416.5" y="315.0"/><use href="#c_ff0000" x="416.5" y="210.5"/><use href="#c_ff0000" x="416.5" y="281.5"/><use href="#c_ff0000" x="416.5" y="266.0"/><use href="#c_ff0000" x="416.5" y="313.1"/><use href="#c_ff0000" x="416.5" y="250.8"/><use href="#c_ff0000" x="416.5" y="316.7"/><use href="#c_ff0000" x="416.5" y="148.2"/><use href="#c_ff0000" x="416.5" y="305.8"/><use href="#c_ff0000" x="416.5" y="272.6"/><use href="#c_ff0000" x="416.5" y="274.4"/><use href="#c_ff0000" x="416.5" y="336.7"/><use href="#c_ff0000" x="416.5" y="426.3"/><use href="#c_ff0000" x="416.5" y="230.8"/><use href="#c_ff0000" x="416.5" y="246.6"/><use href="#c_ff0000" x="416.5" y="198.5"/><use href="#c_ff0000" x="416.5" y="10.5"/><use href="#c_ff0000" x="416.5" y="193.5"/><use href="#c_ff0000" x="416.5" y="373.0"/><use href="#c_ff0000" x="416.5" y="238.6"/><use href="#c_ff0000" x="416.5" y="382.5"/><use href="#c_ff0000" x="416.5" y="340.0"/><use href="#c_ff0000" x="416.5" y="408.7"/><use href="#c_ff0000" x="416.5" y="433.5"/><use href="#c_ff0000" x="416.5" y="369.2"/><use href="#c_ff0000" x="416.5" y="303.9"/><use href="#c_ff0000" x="416.5" y="389.5"/><use href="#c_ff0000" x="416.5" y="394.5"/><use href="#c_ff0000" x="416.5" y="260.0"/><use href="#c_ff0000" x="416.5" y="227.5"/><use href="#c_ff0000" x="416.5" y="410.5"/><use href="#c_ff0000" x="416.5" y="379.5"/><use href="#c_ff0000" x="416.5" y="311.3"/><use href="#c_ff0000" x="416.5" y="300.2"/><use href="#c_ff0000" x="416.5" y="401.5"/><use href="#c_ff0000" x="416.5" y="356.5"/>
<use href="#d_006400" x="492.8" y="328.6"/><use href="#d_006400" x="492.8" y="366.2"/><use href="#d_006400" x="492.8" y="377.1"/><use href="#d_006400" x="492.8" y="283.5"/><use href="#d_006400" x="492.8" y="259.8"/><use href="#d_006400" x="492.8" y="333.8"/><use href="#d_006400" x="492.8" y="31.8"/><use href="#d_006400" x="492.8" y="291.8"/><use href="#d_006400" x="492.8" y="353.2"/><use href="#d_006400" x="492.8" y="321.8"/><use href="#d_006400" x="492.8" y="401.7"/><use href="#d_006400" x="492.8" y="306.5"/><use href="#d_006400" x="492.8" y="308.4"/><use href="#d_006400" x="492.8" y="296.0"/><use href="#d_006400" x="492.8" y="327.5"/><use href="#d_006400" x="492.8" y="269.4"/><use href="#d_006400" x="492.8" y="254.3"/><use href="#d_006400" x="492.8" y="344.6"/><use href="#d_006400" x="492.8" y="277.6"/><use href="#d_006400" x="492.8" y="392.3"/><use href="#d_006400" x="492.8" y="185.8"/><use href="#d_006400" x="492.8" y="336.5"/><use href="#d_006400" x="492.8" y="419.6"/><use href="#d_006400" x="492.8" y="403.8"/><use href="#d_006400" x="492.8" y="247.0"/><use href="#d_006400" x="492.8" y="218.8"/><use href="#d_006400" x="492.8" y="361.6"/><use href="#d_006400" x="492.8" y="357.4"/><use href="#d_006400" x="492.8" y="34.5"/><use href="#d_006400" x="492.8" y="291.9"/><use href="#d_006400" x="492.8" y="384.6"/><use href="#d_006400" x="492.8" y="428.1"/><use href="#d_006400" x="492.8" y="278.9"/><use href="#d_006400" x="492.8" y="183.8"/><use href="#d_006400" x="492.8" y="419.4"/><use href="#d_006400" x="492.8" y="375.4"/><use href="#d_006400" x="492.8" y="44.2"/><use href="#d_006400" x="492.8" y="316.8"/><use href="#d_006400" x="492.8" y="182.6"/><use href="#d_006400" x="492.8" y="215.3"/><use href="#d_006400" x="492.8" y="342.2"/><use href="#d_006400" x="492.8" y="283.8"/><use href="#d_006400" x="492.8" y="272.7"/><use href="#d_006400" x="492.8" y="62.7"/><use href="#d_006400" x="492.8" y="196.2"/><use href="#d_006400" x="492.8" y="397.6"/><use href="#d_006400" x="492.8" y="371.3"/><use href="#d_006400" x="492.8" y="388.8"/><use href="#d_006400" x="492.8" y="271.4"/><use href="#d_006400" x="492.8" y="322.7"/><use href="#d_006400" x="492.8" y="343.8"/><use href="#d_006400" x="492.8" y="208.0"/><use href="#d_006400" x="492.8" y="333.9"/><use href="#d_006400" x="492.8" y="255.2"/><use href="#d_006400" x="492.8" y="279.6"/><use href="#d_006400" x="492.8" y="415.6"/><use href="#d_006400" x="492.8" y="285.1"/><use href="#d_006400" x="492.8" y="350.0"/><use href="#d_006400" x="492.8" y="436.4"/><use href="#d_006400" x="492.8" y="227.4"/><use href="#d_006400" x="492.8" y="256.9"/><use href="#d_006400" x="492.8" y="325.0"/><use href="#d_006400" x="492.8" y="303.7"/><use href="#d_006400" x="492.8" y="368.0"/><use href="#d_006400" x="492.8" y="407.0"/><use href="#d_006400" x="492.8" y="222.6"/><use href="#d_006400" x="492.8" y="289.5"/><use href="#d_006400" x="492.8" y="201.2"/><use href="#d_006400" x="492.8" y="360.1"/><use href="#d_006400" x="492.8" y="324.9"/><use href="#d_006400" x="492.8" y="264.9"/><use href="#d_006400" x="492.8" y="434.0"/><use href="#d_006400" x="492.8" y="346.3"/><use href="#d_006400" x="492.8" y="354.4"/><use href="#d_006400" x="492.8" y="232.1"/><use href="#d_006400" x="492.8" y="366.1"/><use href="#d_006400" x="492.8" y="307.5"/><use href="#d_006400" x="492.8" y="253.5"/><use href="#d_006400" x="492.8" y="295.3"/><use href="#d_006400" x="492.8" y="264.3"/><use href="#d_006400" x="492.8" y="314.4"/><use href="#d_006400" x="492.8" y="252.1"/><use href="#d_006400" x="492.8" y="317.2"/><use href="#d_006400" x="492.8" y="148.6"/><use href="#d_006400" x="492.8" y="313.7"/><use href="#d_006400" x="492.8" y="274.4"/><use href="#d_006400" x="492.8" y="274.6"/><use href="#d_006400" x="492.8" y="339.3"/><use href="#d_006400" x="492.8" y="426.1"/><use href="#d_006400" x="492.8" y="233.7"/><use href="#d_006400" x="492.8" y="245.2"/><use href="#d_006400" x="492.8" y="197.9"/><use href="#d_006400" x="492.8" y="22.5"/><use href="#d_006400" x="492.8" y="192.8"/><use href="#d_006400" x="492.8" y="373.4"/><use href="#d_006400" x="492.8" y="239.0"/><use href="#d_006400" x="492.8" y="383.2"/><use href="#d_006400" x="492.8" y="338.4"/><use href="#d_006400" x="492.8" y="408.2"/><use href="#d_006400" x="492.8" y="434.4"/><use href="#d_006400" x="492.8" y="369.9"/><use href="#d_006400" x="492.8" y="304.0"/><use href="#d_006400" x="492.8" y="391.3"/><use href="#d_006400" x="492.8" y="392.2"/><use href="#d_006400" x="492.8" y="261.5"/><use href="#d_006400" x="492.8" y="228.7"/><use href="#d_006400" x="492.8" y="413.0"/><use href="#d_006400" x="492.8" y="378.1"/><use href="#d_006400" x="492.8" y="311.9"/><use href="#d_006400" x="492.8" y="299.6"/><use href="#d_006400" x="492.8" y="401.1"/><use href="#d_006400" x="492.8" y="330.5"/>
<path d="M575.9 206.8L636.3 206.8M575.0 212.0L637.5 248.9M575.9 216.2L636.3 216.0M574.6 223.6L638.0 270.2M575.9 221.3L636.3 220.9M575.9 222.9L636.3 221.6M575.9 226.9L636.3 228.2M575.9 231.1L636.3 229.8M575.9 232.4L636.3 232.7M575.9 238.6L636.3 239.8M575.9 247.5L636.3 247.5M575.9 252.3L636.3 251.5M575.9 254.0L636.3 254.0M575.9 256.4L636.3 256.0M575.9 260.0L636.3 260.4M575.9 262.1L636.3 262.6M575.9 264.6L636.3 263.3M575.9 267.9L636.3 268.9M575.9 276.4L636.3 275.2M575.9 278.2L636.3 277.8M575.9 281.0L636.3 281.3M575.9 282.7L636.3 282.9M575.9 284.4L636.3 284.7M575.9 287.0L636.3 287.0M575.9 288.8L636.3 288.8M575.9 292.0L636.3 292.1M575.9 293.7L636.3 295.9M575.9 296.3L636.3 298.6M575.9 297.9L636.3 297.5M575.9 300.6L636.3 301.2M575.9 302.1L636.3 302.7M575.9 305.5L636.3 305.6M575.9 307.1L636.3 308.3M575.9 308.8L636.3 307.0M575.9 310.8L636.3 310.7M575.9 312.3L636.3 312.5M575.9 314.1L636.3 315.3M575.9 315.9L636.3 314.8M575.9 318.4L636.3 317.5M575.9 319.6L636.3 317.8M575.9 321.7L636.3 320.6M575.9 325.1L636.4 317.2M575.9 328.2L636.3 329.5M575.9 329.8L636.3 328.2M575.8 333.1L636.4 342.9M575.9 334.0L636.3 334.1M575.9 336.0L636.3 336.1M575.9 337.9L636.3 337.3M575.9 339.9L636.3 339.2M575.9 341.6L636.3 342.7M575.9 342.5L636.4 334.1M575.9 345.5L636.3 347.4M575.9 349.4L636.3 348.7M575.9 352.0L636.3 352.1M575.8 356.0L636.4 365.0M575.9 358.9L636.3 357.6M575.9 362.5L636.3 362.4M575.9 364.3L636.3 358.2M575.9 368.0L636.3 368.4M575.9 373.1L636.3 373.7M575.9 383.5L636.3 383.3M575.9 385.5L636.3 385.2M575.9 390.1L636.3 390.7M575.9 394.3L636.3 393.8M575.9 408.5L636.3 411.4M575.9 411.5L636.3 411.9M575.9 413.9L636.3 413.1M575.9 416.7L636.3 415.5M575.9 419.3L636.3 418.3M575.9 423.5L636.3 424.6M575.9 426.8L636.3 428.7M575.9 444.4L636.3 444.8M575.9 445.3L636.3 442.7M575.8 9.0L636.4 19.6M575.9 27.4L636.3 33.2M575.9 36.0L636.3 36.3M575.9 88.2L636.3 88.5M575.9 180.3L636.3 182.5" stroke="#ff8000" stroke-width="2" fill="none" stroke-dasharray="8 4.3 2.7 4.2 2.7 4.3"/>
<use href="#c_ff0000" x="569.0" y="7.8"/><use href="#c_ff0000" x="569.0" y="355.0"/><use href="#c_ff0000" x="569.0" y="352.0"/><use href="#c_ff0000" x="569.0" y="260.0"/><use href="#c_ff0000" x="569.0" y="368.0"/><use href="#c_ff0000" x="569.0" y="302.0"/><use href="#c_ff0000" x="569.0" y="423.4"/><use href="#c_ff0000" x="569.0" y="345.3"/><use href="#c_ff0000" x="569.0" y="300.5"/><use href="#c_ff0000" x="569.0" y="26.7"/><use href="#c_ff0000" x="569.0" y="262.0"/><use href="#c_ff0000" x="569.0" y="287.0"/><use href="#c_ff0000" x="569.0" y="35.9"/><use href="#c_ff0000" x="569.0" y="216.2"/><use href="#c_ff0000" x="569.0" y="411.5"/><use href="#c_ff0000" x="569.0" y="298.0"/><use href="#c_ff0000" x="569.0" y="180.0"/><use href="#c_ff0000" x="569.0" y="318.5"/><use href="#c_ff0000" x="569.0" y="288.8"/><use href="#c_ff0000" x="569.0" y="226.7"/><use href="#c_ff0000" x="569.0" y="334.0"/><use href="#c_ff0000" x="569.0" y="284.4"/><use href="#c_ff0000" x="569.0" y="362.5"/><use href="#c_ff0000" x="569.0" y="264.7"/><use href="#c_ff0000" x="569.0" y="221.3"/><use href="#c_ff0000" x="569.0" y="343.5"/><use href="#c_ff0000" x="569.0" y="276.5"/><use href="#c_ff0000" x="569.0" y="349.5"/><use href="#c_ff0000" x="569.0" y="310.8"/><use href="#c_ff0000" x="569.0" y="332.0"/><use href="#c_ff0000" x="569.0" y="247.5"/><use href="#c_ff0000" x="569.0" y="383.5"/><use href="#c_ff0000" x="569.0" y="292.0"/><use href="#c_ff0000" x="569.0" y="252.4"/><use href="#c_ff0000" x="569.0" y="416.8"/><use href="#c_ff0000" x="569.0" y="238.5"/><use href="#c_ff0000" x="569.0" y="305.5"/><use href="#c_ff0000" x="569.0" y="445.6"/><use href="#c_ff0000" x="569.0" y="282.7"/><use href="#c_ff0000" x="569.0" y="254.0"/><use href="#c_ff0000" x="569.0" y="314.0"/><use href="#c_ff0000" x="569.0" y="326.0"/><use href="#c_ff0000" x="569.0" y="426.6"/><use href="#c_ff0000" x="569.0" y="340.0"/><use href="#c_ff0000" x="569.0" y="256.4"/><use href="#c_ff0000" x="569.0" y="278.3"/><use href="#c_ff0000" x="569.0" y="206.8"/><use href="#c_ff0000" x="569.0" y="316.0"/><use href="#c_ff0000" x="569.0" y="338.0"/><use href="#c_ff0000" x="569.0" y="231.2"/><use href="#c_ff0000" x="569.0" y="293.5"/><use href="#c_ff0000" x="569.0" y="419.4"/><use href="#c_ff0000" x="569.0" y="307.0"/><use href="#c_ff0000" x="569.0" y="281.0"/><use href="#c_ff0000" x="569.0" y="373.0"/><use href="#c_ff0000" x="569.0" y="312.3"/><use href="#c_ff0000" x="569.0" y="394.4"/><use href="#c_ff0000" x="569.0" y="223.0"/><use href="#c_ff0000" x="569.0" y="88.1"/><use href="#c_ff0000" x="569.0" y="336.0"/><use href="#c_ff0000" x="569.0" y="267.8"/><use href="#c_ff0000" x="569.0" y="365.0"/><use href="#c_ff0000" x="569.0" y="219.5"/><use href="#c_ff0000" x="569.0" y="232.4"/><use href="#c_ff0000" x="569.0" y="319.8"/><use href="#c_ff0000" x="569.0" y="341.5"/><use href="#c_ff0000" x="569.0" y="328.0"/><use href="#c_ff0000" x="569.0" y="309.0"/><use href="#c_ff0000" x="569.0" y="408.2"/><use href="#c_ff0000" x="569.0" y="390.0"/><use href="#c_ff0000" x="569.0" y="296.0"/><use href="#c_ff0000" x="569.0" y="208.5"/><use href="#c_ff0000" x="569.0" y="414.0"/><use href="#c_ff0000" x="569.0" y="359.0"/><use href="#c_ff0000" x="569.0" y="385.5"/><use href="#c_ff0000" x="569.0" y="321.8"/><use href="#c_ff0000" x="569.0" y="444.4"/><use href="#c_ff0000" x="569.0" y="330.0"/>
<use href="#d_006400" x="645.3" y="21.2"/><use href="#d_006400" x="645.3" y="366.4"/><use href="#d_006400" x="645.3" y="352.1"/><use href="#d_006400" x="645.3" y="260.4"/><use href="#d_006400" x="645.3" y="368.5"/><use href="#d_006400" x="645.3" y="302.7"/><use href="#d_006400" x="645.3" y="424.8"/><use href="#d_006400" x="645.3" y="347.7"/><use href="#d_006400" x="645.3" y="301.3"/><use href="#d_006400" x="645.3" y="34.1"/><use href="#d_006400" x="645.3" y="262.7"/><use href="#d_006400" x="645.3" y="287.0"/><use href="#d_006400" x="645.3" y="36.4"/><use href="#d_006400" x="645.3" y="216.0"/><use href="#d_006400" x="645.3" y="411.9"/><use href="#d_006400" x="645.3" y="297.4"/><use href="#d_006400" x="645.3" y="182.8"/><use href="#d_006400" x="645.3" y="317.4"/><use href="#d_006400" x="645.3" y="288.8"/><use href="#d_006400" x="645.3" y="228.4"/><use href="#d_006400" x="645.3" y="334.1"/><use href="#d_006400" x="645.3" y="284.7"/><use href="#d_006400" x="645.3" y="362.4"/><use href="#d_006400" x="645.3" y="263.2"/><use href="#d_006400" x="645.3" y="220.8"/><use href="#d_006400" x="645.3" y="332.9"/><use href="#d_006400" x="645.3" y="275.0"/><use href="#d_006400" x="645.3" y="348.6"/><use href="#d_006400" x="645.3" y="310.7"/><use href="#d_006400" x="645.3" y="344.3"/><use href="#d_006400" x="645.3" y="247.5"/><use href="#d_006400" x="645.3" y="383.3"/><use href="#d_006400" x="645.3" y="292.1"/><use href="#d_006400" x="645.3" y="251.4"/><use href="#d_006400" x="645.3" y="415.3"/><use href="#d_006400" x="645.3" y="240.0"/><use href="#d_006400" x="645.3" y="305.7"/><use href="#d_006400" x="645.3" y="442.3"/><use href="#d_006400" x="645.3" y="282.9"/><use href="#d_006400" x="645.3" y="254.1"/><use href="#d_006400" x="645.3" y="315.4"/><use href="#d_006400" x="645.3" y="316.0"/><use href="#d_006400" x="645.3" y="428.9"/><use href="#d_006400" x="645.3" y="339.1"/><use href="#d_006400" x="645.3" y="255.9"/><use href="#d_006400" x="645.3" y="277.7"/><use href="#d_006400" x="645.3" y="206.8"/><use href="#d_006400" x="645.3" y="314.6"/><use href="#d_006400" x="645.3" y="337.2"/><use href="#d_006400" x="645.3" y="229.6"/><use href="#d_006400" x="645.3" y="296.2"/><use href="#d_006400" x="645.3" y="418.2"/><use href="#d_006400" x="645.3" y="308.5"/><use href="#d_006400" x="645.3" y="281.3"/><use href="#d_006400" x="645.3" y="373.8"/><use href="#d_006400" x="645.3" y="312.5"/><use href="#d_006400" x="645.3" y="393.7"/><use href="#d_006400" x="645.3" y="221.5"/><use href="#d_006400" x="645.3" y="88.6"/><use href="#d_006400" x="645.3" y="336.1"/><use href="#d_006400" x="645.3" y="269.1"/><use href="#d_006400" x="645.3" y="357.3"/><use href="#d_006400" x="645.3" y="275.5"/><use href="#d_006400" x="645.3" y="232.7"/><use href="#d_006400" x="645.3" y="317.6"/><use href="#d_006400" x="645.3" y="342.9"/><use href="#d_006400" x="645.3" y="329.7"/><use href="#d_006400" x="645.3" y="306.7"/><use href="#d_006400" x="645.3" y="411.8"/><use href="#d_006400" x="645.3" y="390.7"/><use href="#d_006400" x="645.3" y="299.0"/><use href="#d_006400" x="645.3" y="253.5"/><use href="#d_006400" x="645.3" y="413.0"/><use href="#d_006400" x="645.3" y="357.4"/><use href="#d_006400" x="645.3" y="385.1"/><use href="#d_006400" x="645.3" y="320.4"/><use href="#d_006400" x="645.3" y="444.8"/><use href="#d_006400" x="645.3" y="327.9"/>
<path d="M252.4 670.9L312.9 665.4M252.4 673.7L312.8 674.3M252.4 676.7L312.8 676.4M252.4 681.6L312.8 682.4M252.4 684.6L312.8 686.0M252.4 686.7L312.8 688.6M252.4 688.4L312.8 687.8M252.4 695.0L312.8 695.4M252.4 697.1L312.8 698.0M252.4 698.6L312.8 699.9M252.4 704.8L312.8 707.7M252.4 706.5L312.8 706.6M252.4 708.1L312.8 709.3M252.4 713.5L312.8 713.7M252.4 715.3L312.8 713.9M252.4 718.9L312.8 719.4M252.4 720.0L312.8 720.3M252.4 726.5L312.8 725.6M252.4 734.6L312.8 735.0M251.5 742.3L314.1 779.3M252.4 742.2L312.8 743.6M252.2 745.6L313.1 760.5M252.4 746.2L312.8 748.1M252.4 747.9L312.8 747.0M252.4 749.9L312.8 748.6M252.4 752.1L312.8 752.7M252.4 754.0L312.8 754.3M252.4 757.1L312.8 757.6M252.4 758.5L312.8 755.6M252.4 760.5L312.8 759.4M252.3 760.9L313.0 747.4M252.4 764.1L312.8 763.4M251.9 768.6L313.5 793.6M252.4 767.9L312.8 769.1M252.3 771.1L313.0 785.3M252.4 771.1L312.8 770.5M252.4 773.2L312.8 773.1M252.4 775.0L312.8 774.1M252.4 776.9L312.8 775.6M252.4 779.0L312.8 779.0M252.4 781.6L312.8 781.9M252.4 784.4L312.8 783.4M252.4 786.4L312.8 786.1M252.4 788.2L312.8 787.7M252.2 788.2L313.1 771.1M252.4 791.9L312.8 791.4M252.4 793.8L312.8 793.8M252.4 795.8L312.8 797.2M252.4 797.4L312.8 797.0M252.4 799.3L312.8 798.8M252.4 801.1L312.8 800.4M252.4 803.0L312.8 802.3M252.4 804.6L312.8 803.8M252.4 806.6L312.8 806.2M252.4 808.4L312.8 808.2M252.4 810.2L312.8 809.6M252.4 813.2L312.9 822.3M252.1 811.9L313.3 791.8M252.4 817.2L312.8 818.2M252.4 819.0L312.8 818.9M252.4 821.3L312.8 823.1M252.4 822.1L312.9 814.2M252.4 825.6L312.9 833.7M252.4 826.3L312.8 825.9M252.4 828.2L312.8 829.2M252.4 829.7L312.8 829.6M252.4 831.4L312.8 831.3M252.4 833.1L312.8 833.6M252.4 834.1L312.9 826.1M252.4 837.6L312.8 837.7M252.1 838.0L313.2 818.7M252.4 842.1L312.8 842.4M252.4 844.7L312.8 845.6M252.4 846.3L312.8 844.2M252.4 848.3L312.8 848.5M252.4 850.1L312.8 850.8M252.4 852.0L312.8 853.5M252.4 853.7L312.8 853.6M252.4 855.4L312.8 854.9M252.4 857.2L312.8 857.2M252.4 859.3L312.8 860.7M252.4 861.2L312.8 862.2M252.4 863.1L312.8 864.2M252.4 864.8L312.8 864.6M252.4 867.7L312.8 868.5M252.4 870.6L312.8 870.6M252.4 873.3L312.8 871.3M252.4 875.8L312.8 877.8M252.4 877.6L312.8 877.8M252.4 880.1L312.8 880.0M252.4 882.8L312.8 884.3M252.4 885.4L312.8 884.2M252.4 887.6L312.8 887.8M252.4 889.5L312.8 889.1M252.4 891.0L312.8 890.3M252.4 893.9L312.8 892.3M252.4 896.9L312.8 897.5M252.4 898.6L312.8 899.3M252.4 901.2L312.8 902.6M252.4 905.7L312.8 907.0M252.4 908.9L312.8 906.8M252.4 914.4L312.8 914.9M252.4 915.6L312.8 917.4M252.4 921.5L312.8 920.7M252.4 922.9L312.8 920.9M252.4 926.5L312.8 927.5M249.8 503.9L316.3 589.7M250.2 517.3L315.7 587.5M250.4 525.6L315.5 592.3M250.8 535.7L314.9 589.7M251.3 553.5L314.3 595.1M252.4 636.2L312.8 637.3" stroke="#ff8000" stroke-width="2" fill="none" stroke-dasharray="8 4.3 2.7 4.2 2.7 4.3"/>
<use href="#c_808000" x="245.5" y="850.1"/><use href="#c_808000" x="245.5" y="498.4"/><use href="#c_808000" x="245.5" y="812.2"/><use href="#c_808000" x="245.5" y="831.4"/><use href="#c_808000" x="245.5" y="870.6"/><use href="#c_808000" x="245.5" y="771.2"/><use href="#c_808000" x="245.5" y="767.8"/><use href="#c_808000" x="245.5" y="795.6"/><use href="#c_808000" x="245.5" y="840.1"/><use href="#c_808000" x="245.5" y="923.1"/><use href="#c_808000" x="245.5" y="713.5"/><use href="#c_808000" x="245.5" y="752.0"/><use href="#c_808000" x="245.5" y="706.5"/><use href="#c_808000" x="245.5" y="896.8"/><use href="#c_808000" x="245.5" y="686.5"/><use href="#c_808000" x="245.5" y="781.5"/><use href="#c_808000" x="245.5" y="750.0"/><use href="#c_808000" x="245.5" y="742.0"/><use href="#c_808000" x="245.5" y="673.6"/><use href="#c_808000" x="245.5" y="905.6"/><use href="#c_808000" x="245.5" y="803.0"/><use href="#c_808000" x="245.5" y="853.7"/><use href="#c_808000" x="245.5" y="851.9"/><use href="#c_808000" x="245.5" y="681.5"/><use href="#c_808000" x="245.5" y="821.0"/><use href="#c_808000" x="245.5" y="846.6"/><use href="#c_808000" x="245.5" y="921.6"/><use href="#c_808000" x="245.5" y="799.3"/><use href="#c_808000" x="245.5" y="914.4"/><use href="#c_808000" x="245.5" y="909.1"/><use href="#c_808000" x="245.5" y="833.0"/><use href="#c_808000" x="245.5" y="790.1"/><use href="#c_808000" x="245.5" y="842.1"/><use href="#c_808000" x="245.5" y="748.0"/><use href="#c_808000" x="245.5" y="784.5"/><use href="#c_808000" x="245.5" y="898.6"/><use href="#c_808000" x="245.5" y="819.0"/><use href="#c_808000" x="245.5" y="829.7"/><use href="#c_808000" x="245.5" y="894.1"/><use href="#c_808000" x="245.5" y="531.2"/><use href="#c_808000" x="245.5" y="791.9"/><use href="#c_808000" x="245.5" y="549.7"/><use href="#c_808000" x="245.5" y="779.0"/><use href="#c_808000" x="245.5" y="828.0"/><use href="#c_808000" x="245.5" y="726.6"/><use href="#c_808000" x="245.5" y="764.2"/><use href="#c_808000" x="245.5" y="793.8"/><use href="#c_808000" x="245.5" y="859.2"/><use href="#c_808000" x="245.5" y="826.4"/><use href="#c_808000" x="245.5" y="720.0"/><use href="#c_808000" x="245.5" y="875.6"/><use href="#c_808000" x="245.5" y="797.5"/><use href="#c_808000" x="245.5" y="684.5"/><use href="#c_808000" x="245.5" y="704.5"/><use href="#c_808000" x="245.5" y="754.0"/><use href="#c_808000" x="245.5" y="915.4"/><use href="#c_808000" x="245.5" y="758.8"/><use href="#c_808000" x="245.5" y="788.2"/><use href="#c_808000" x="245.5" y="695.0"/><use href="#c_808000" x="245.5" y="757.0"/><use href="#c_808000" x="245.5" y="889.6"/><use href="#c_808000" x="245.5" y="824.7"/><use href="#c_808000" x="245.5" y="769.5"/><use href="#c_808000" x="245.5" y="801.2"/><use href="#c_808000" x="245.5" y="810.3"/><use href="#c_808000" x="245.5" y="697.0"/><use href="#c_808000" x="245.5" y="520.6"/><use href="#c_808000" x="245.5" y="744.0"/><use href="#c_808000" x="245.5" y="746.0"/><use href="#c_808000" x="245.5" y="708.0"/><use href="#c_808000" x="245.5" y="775.1"/><use href="#c_808000" x="245.5" y="777.1"/><use href="#c_808000" x="245.5" y="891.1"/><use href="#c_808000" x="245.5" y="804.7"/><use href="#c_808000" x="245.5" y="814.0"/><use href="#c_808000" x="245.5" y="808.5"/><use href="#c_808000" x="245.5" y="806.6"/><use href="#c_808000" x="245.5" y="873.6"/><use href="#c_808000" x="245.5" y="762.4"/><use href="#c_808000" x="245.5" y="718.8"/><use href="#c_808000" x="245.5" y="885.6"/><use href="#c_808000" x="245.5" y="671.6"/><use href="#c_808000" x="245.5" y="877.6"/><use href="#c_808000" x="245.5" y="863.0"/><use href="#c_808000" x="245.5" y="837.6"/><use href="#c_808000" x="245.5" y="882.6"/><use href="#c_808000" x="245.5" y="857.3"/><use href="#c_808000" x="245.5" y="636.1"/><use href="#c_808000" x="245.5" y="844.6"/><use href="#c_808000" x="245.5" y="926.4"/><use href="#c_808000" x="245.5" y="766.0"/><use href="#c_808000" x="245.5" y="880.1"/><use href="#c_808000" x="245.5" y="512.3"/><use href="#c_808000" x="245.5" y="688.5"/><use href="#c_808000" x="245.5" y="773.2"/><use href="#c_808000" x="245.5" y="867.6"/><use href="#c_808000" x="245.5" y="817.0"/><use href="#c_808000" x="245.5" y="738.8"/><use href="#c_808000" x="245.5" y="786.4"/><use href="#c_808000" x="245.5" y="901.1"/><use href="#c_808000" x="245.5" y="698.5"/><use href="#c_808000" x="245.5" y="835.0"/><use href="#c_808000" x="245.5" y="848.3"/><use href="#c_808000" x="245.5" y="887.6"/><use href="#c_808000" x="245.5" y="676.8"/><use href="#c_808000" x="245.5" y="715.5"/><use href="#c_808000" x="245.5" y="861.1"/><use href="#c_808000" x="245.5" y="864.9"/><use href="#c_808000" x="245.5" y="760.6"/><use href="#c_808000" x="245.5" y="855.5"/><use href="#c_808000" x="245.5" y="734.6"/><use href="#c_808000" x="245.5" y="823.0"/>
<use href="#d_ff00ff" x="321.8" y="850.8"/><use href="#d_ff00ff" x="321.8" y="596.8"/><use href="#d_ff00ff" x="321.8" y="823.6"/><use href="#d_ff00ff" x="321.8" y="831.3"/><use href="#d_ff00ff" x="321.8" y="870.6"/><use href="#d_ff00ff" x="321.8" y="770.4"/><use href="#d_ff00ff" x="321.8" y="769.2"/><use href="#d_ff00ff" x="321.8" y="797.4"/><use href="#d_ff00ff" x="321.8" y="816.0"/><use href="#d_ff00ff" x="321.8" y="920.6"/><use href="#d_ff00ff" x="321.8" y="713.8"/><use href="#d_ff00ff" x="321.8" y="752.8"/><use href="#d_ff00ff" x="321.8" y="706.6"/><use href="#d_ff00ff" x="321.8" y="897.6"/><use href="#d_ff00ff" x="321.8" y="688.9"/><use href="#d_ff00ff" x="321.8" y="782.0"/><use href="#d_ff00ff" x="321.8" y="748.4"/><use href="#d_ff00ff" x="321.8" y="743.8"/><use href="#d_ff00ff" x="321.8" y="674.4"/><use href="#d_ff00ff" x="321.8" y="907.2"/><use href="#d_ff00ff" x="321.8" y="802.2"/><use href="#d_ff00ff" x="321.8" y="853.6"/><use href="#d_ff00ff" x="321.8" y="853.8"/><use href="#d_ff00ff" x="321.8" y="682.5"/><use href="#d_ff00ff" x="321.8" y="823.4"/><use href="#d_ff00ff" x="321.8" y="843.9"/><use href="#d_ff00ff" x="321.8" y="920.6"/><use href="#d_ff00ff" x="321.8" y="798.8"/><use href="#d_ff00ff" x="321.8" y="914.9"/><use href="#d_ff00ff" x="321.8" y="906.5"/><use href="#d_ff00ff" x="321.8" y="833.7"/><use href="#d_ff00ff" x="321.8" y="768.6"/><use href="#d_ff00ff" x="321.8" y="842.4"/><use href="#d_ff00ff" x="321.8" y="746.8"/><use href="#d_ff00ff" x="321.8" y="783.2"/><use href="#d_ff00ff" x="321.8" y="899.4"/><use href="#d_ff00ff" x="321.8" y="818.8"/><use href="#d_ff00ff" x="321.8" y="829.6"/><use href="#d_ff00ff" x="321.8" y="892.1"/><use href="#d_ff00ff" x="321.8" y="595.5"/><use href="#d_ff00ff" x="321.8" y="791.4"/><use href="#d_ff00ff" x="321.8" y="600.1"/><use href="#d_ff00ff" x="321.8" y="779.0"/><use href="#d_ff00ff" x="321.8" y="829.4"/><use href="#d_ff00ff" x="321.8" y="725.5"/><use href="#d_ff00ff" x="321.8" y="763.3"/><use href="#d_ff00ff" x="321.8" y="793.8"/><use href="#d_ff00ff" x="321.8" y="861.0"/><use href="#d_ff00ff" x="321.8" y="825.9"/><use href="#d_ff00ff" x="321.8" y="720.4"/><use href="#d_ff00ff" x="321.8" y="878.0"/><use href="#d_ff00ff" x="321.8" y="796.9"/><use href="#d_ff00ff" x="321.8" y="686.2"/><use href="#d_ff00ff" x="321.8" y="708.1"/><use href="#d_ff00ff" x="321.8" y="754.3"/><use href="#d_ff00ff" x="321.8" y="917.7"/><use href="#d_ff00ff" x="321.8" y="755.2"/><use href="#d_ff00ff" x="321.8" y="787.6"/><use href="#d_ff00ff" x="321.8" y="695.5"/><use href="#d_ff00ff" x="321.8" y="757.6"/><use href="#d_ff00ff" x="321.8" y="889.0"/><use href="#d_ff00ff" x="321.8" y="834.9"/><use href="#d_ff00ff" x="321.8" y="787.3"/><use href="#d_ff00ff" x="321.8" y="800.3"/><use href="#d_ff00ff" x="321.8" y="809.5"/><use href="#d_ff00ff" x="321.8" y="698.1"/><use href="#d_ff00ff" x="321.8" y="598.7"/><use href="#d_ff00ff" x="321.8" y="762.6"/><use href="#d_ff00ff" x="321.8" y="748.4"/><use href="#d_ff00ff" x="321.8" y="709.5"/><use href="#d_ff00ff" x="321.8" y="774.0"/><use href="#d_ff00ff" x="321.8" y="775.4"/><use href="#d_ff00ff" x="321.8" y="890.2"/><use href="#d_ff00ff" x="321.8" y="803.7"/><use href="#d_ff00ff" x="321.8" y="789.0"/><use href="#d_ff00ff" x="321.8" y="808.2"/><use href="#d_ff00ff" x="321.8" y="806.2"/><use href="#d_ff00ff" x="321.8" y="871.0"/><use href="#d_ff00ff" x="321.8" y="745.4"/><use href="#d_ff00ff" x="321.8" y="719.5"/><use href="#d_ff00ff" x="321.8" y="884.1"/><use href="#d_ff00ff" x="321.8" y="664.6"/><use href="#d_ff00ff" x="321.8" y="877.8"/><use href="#d_ff00ff" x="321.8" y="864.4"/><use href="#d_ff00ff" x="321.8" y="837.7"/><use href="#d_ff00ff" x="321.8" y="884.6"/><use href="#d_ff00ff" x="321.8" y="857.1"/><use href="#d_ff00ff" x="321.8" y="637.5"/><use href="#d_ff00ff" x="321.8" y="845.7"/><use href="#d_ff00ff" x="321.8" y="927.7"/><use href="#d_ff00ff" x="321.8" y="797.0"/><use href="#d_ff00ff" x="321.8" y="880.0"/><use href="#d_ff00ff" x="321.8" y="594.1"/><use href="#d_ff00ff" x="321.8" y="687.7"/><use href="#d_ff00ff" x="321.8" y="773.1"/><use href="#d_ff00ff" x="321.8" y="868.6"/><use href="#d_ff00ff" x="321.8" y="818.3"/><use href="#d_ff00ff" x="321.8" y="783.8"/><use href="#d_ff00ff" x="321.8" y="786.1"/><use href="#d_ff00ff" x="321.8" y="902.8"/><use href="#d_ff00ff" x="321.8" y="700.1"/><use href="#d_ff00ff" x="321.8" y="824.9"/><use href="#d_ff00ff" x="321.8" y="848.6"/><use href="#d_ff00ff" x="321.8" y="887.9"/><use href="#d_ff00ff" x="321.8" y="676.3"/><use href="#d_ff00ff" x="321.8" y="713.7"/><use href="#d_ff00ff" x="321.8" y="862.4"/><use href="#d_ff00ff" x="321.8" y="864.5"/><use href="#d_ff00ff" x="321.8" y="759.3"/><use href="#d_ff00ff" x="321.8" y="854.9"/><use href="#d_ff00ff" x="321.8" y="735.1"/><use href="#d_ff00ff" x="321.8" y="813.1"/>
<path d="M405.0 694.8L465.4 694.8M405.0 696.5L465.4 696.5M405.0 704.2L465.4 704.0M405.0 707.4L465.4 707.0M405.0 709.3L465.4 709.1M405.0 710.9L465.4 710.4M405.0 714.6L465.4 713.7M405.0 719.1L465.4 718.5M405.0 720.2L465.4 718.9M405.0 726.3L465.4 724.9M405.0 735.6L465.4 736.8M405.0 740.4L465.4 740.8M404.4 744.7L466.1 770.5M405.0 744.5L465.4 745.1M405.0 748.0L465.4 747.5M405.0 750.0L465.4 749.9M405.0 752.8L465.4 753.3M405.0 755.7L465.4 754.8M405.0 764.5L465.4 764.5M405.0 766.2L465.4 765.3M405.0 769.0L465.4 768.9M405.0 770.7L465.4 770.9M405.0 772.5L465.4 773.6M405.0 775.0L465.4 774.6M405.0 776.9L465.4 777.2M405.0 779.8L465.4 778.1M405.0 781.5L465.4 781.5M405.0 784.0L465.4 783.7M405.0 785.8L465.4 784.2M405.0 788.2L465.4 785.7M405.0 790.1L465.4 790.4M405.0 793.5L465.4 793.0M405.0 794.9L465.4 793.3M405.0 797.1L465.4 797.4M405.0 798.7L465.4 797.8M405.0 800.8L465.4 804.8M405.0 802.0L465.4 801.9M404.9 805.3L465.5 816.7M405.0 806.5L465.4 806.4M405.0 807.2L465.4 801.5M405.0 810.1L465.4 812.0M405.0 814.1L465.4 814.3M405.0 816.2L465.4 817.9M405.0 817.9L465.4 816.4M404.8 818.7L465.5 806.2M405.0 822.0L465.4 821.2M405.0 824.0L465.4 823.7M405.0 826.0L465.4 825.3M405.0 827.9L465.4 827.1M405.0 829.6L465.4 830.4M405.0 831.5L465.4 831.2M405.0 833.4L465.4 834.3M405.0 837.6L465.4 837.9M405.0 840.3L465.4 842.7M405.0 843.1L465.4 843.7M405.0 847.1L465.4 847.7M405.0 850.7L465.4 852.0M405.0 853.3L465.4 855.7M405.0 856.0L465.4 855.6M405.0 861.2L465.4 862.3M405.0 871.6L465.4 872.0M405.0 873.5L465.4 873.2M405.0 878.1L465.4 878.0M405.0 882.5L465.4 883.2M405.0 896.3L465.4 896.2M405.0 899.5L465.4 899.3M405.0 902.0L465.4 901.5M405.0 904.8L465.4 903.8M405.0 907.6L465.4 908.2M405.0 911.5L465.4 911.4M405.0 914.9L465.4 916.5M405.0 932.8L465.4 935.1M404.9 932.4L465.5 920.4M402.1 501.7L469.1 594.2M403.0 520.3L467.9 583.2M403.3 528.3L467.5 583.6M404.9 577.3L465.5 588.7M405.0 669.0L465.4 673.3" stroke="#ff8000" stroke-width="2" fill="none" stroke-dasharray="8 4.3 2.7 4.2 2.7 4.3"/>
<use href="#c_808000" x="398.1" y="899.6"/><use href="#c_808000" x="398.1" y="806.5"/><use href="#c_808000" x="398.1" y="843.1"/><use href="#c_808000" x="398.1" y="719.2"/><use href="#c_808000" x="398.1" y="804.0"/><use href="#c_808000" x="398.1" y="896.3"/><use href="#c_808000" x="398.1" y="788.5"/><use href="#c_808000" x="398.1" y="907.5"/><use href="#c_808000" x="398.1" y="515.5"/><use href="#c_808000" x="398.1" y="856.1"/><use href="#c_808000" x="398.1" y="752.7"/><use href="#c_808000" x="398.1" y="766.3"/><use href="#c_808000" x="398.1" y="802.0"/><use href="#c_808000" x="398.1" y="668.5"/><use href="#c_808000" x="398.1" y="826.0"/><use href="#c_808000" x="398.1" y="932.5"/><use href="#c_808000" x="398.1" y="911.5"/><use href="#c_808000" x="398.1" y="726.5"/><use href="#c_808000" x="398.1" y="800.3"/><use href="#c_808000" x="398.1" y="873.6"/><use href="#c_808000" x="398.1" y="790.0"/><use href="#c_808000" x="398.1" y="824.0"/><use href="#c_808000" x="398.1" y="814.0"/><use href="#c_808000" x="398.1" y="523.8"/><use href="#c_808000" x="398.1" y="795.0"/><use href="#c_808000" x="398.1" y="837.6"/><use href="#c_808000" x="398.1" y="902.1"/><use href="#c_808000" x="398.1" y="871.6"/><use href="#c_808000" x="398.1" y="809.8"/><use href="#c_808000" x="398.1" y="714.7"/><use href="#c_808000" x="398.1" y="786.0"/><use href="#c_808000" x="398.1" y="740.4"/><use href="#c_808000" x="398.1" y="784.0"/><use href="#c_808000" x="398.1" y="764.5"/><use href="#c_808000" x="398.1" y="770.7"/><use href="#c_808000" x="398.1" y="853.1"/><use href="#c_808000" x="398.1" y="797.0"/><use href="#c_808000" x="398.1" y="704.2"/><use href="#c_808000" x="398.1" y="816.0"/><use href="#c_808000" x="398.1" y="750.0"/><use href="#c_808000" x="398.1" y="776.8"/><use href="#c_808000" x="398.1" y="696.5"/><use href="#c_808000" x="398.1" y="904.9"/><use href="#c_808000" x="398.1" y="882.5"/><use href="#c_808000" x="398.1" y="711.0"/><use href="#c_808000" x="398.1" y="496.1"/><use href="#c_808000" x="398.1" y="748.0"/><use href="#c_808000" x="398.1" y="829.5"/><use href="#c_808000" x="398.1" y="847.1"/><use href="#c_808000" x="398.1" y="840.1"/><use href="#c_808000" x="398.1" y="833.3"/><use href="#c_808000" x="398.1" y="861.1"/><use href="#c_808000" x="398.1" y="781.5"/><use href="#c_808000" x="398.1" y="744.4"/><use href="#c_808000" x="398.1" y="820.0"/><use href="#c_808000" x="398.1" y="772.4"/><use href="#c_808000" x="398.1" y="807.8"/><use href="#c_808000" x="398.1" y="850.6"/><use href="#c_808000" x="398.1" y="769.0"/><use href="#c_808000" x="398.1" y="798.8"/><use href="#c_808000" x="398.1" y="576.1"/><use href="#c_808000" x="398.1" y="709.3"/><use href="#c_808000" x="398.1" y="933.7"/><use href="#c_808000" x="398.1" y="822.0"/><use href="#c_808000" x="398.1" y="720.4"/><use href="#c_808000" x="398.1" y="831.5"/><use href="#c_808000" x="398.1" y="742.0"/><use href="#c_808000" x="398.1" y="780.0"/><use href="#c_808000" x="398.1" y="828.0"/><use href="#c_808000" x="398.1" y="914.7"/><use href="#c_808000" x="398.1" y="707.5"/><use href="#c_808000" x="398.1" y="735.5"/><use href="#c_808000" x="398.1" y="818.0"/><use href="#c_808000" x="398.1" y="793.5"/><use href="#c_808000" x="398.1" y="694.8"/><use href="#c_808000" x="398.1" y="775.0"/><use href="#c_808000" x="398.1" y="878.1"/><use href="#c_808000" x="398.1" y="755.8"/>
<use href="#d_ff00ff" x="474.4" y="899.2"/><use href="#d_ff00ff" x="474.4" y="806.3"/><use href="#d_ff00ff" x="474.4" y="843.8"/><use href="#d_ff00ff" x="474.4" y="718.4"/><use href="#d_ff00ff" x="474.4" y="818.3"/><use href="#d_ff00ff" x="474.4" y="896.2"/><use href="#d_ff00ff" x="474.4" y="785.3"/><use href="#d_ff00ff" x="474.4" y="908.3"/><use href="#d_ff00ff" x="474.4" y="589.5"/><use href="#d_ff00ff" x="474.4" y="855.6"/><use href="#d_ff00ff" x="474.4" y="753.4"/><use href="#d_ff00ff" x="474.4" y="765.1"/><use href="#d_ff00ff" x="474.4" y="801.9"/><use href="#d_ff00ff" x="474.4" y="674.0"/><use href="#d_ff00ff" x="474.4" y="825.2"/><use href="#d_ff00ff" x="474.4" y="935.5"/><use href="#d_ff00ff" x="474.4" y="911.4"/><use href="#d_ff00ff" x="474.4" y="724.7"/><use href="#d_ff00ff" x="474.4" y="805.4"/><use href="#d_ff00ff" x="474.4" y="873.2"/><use href="#d_ff00ff" x="474.4" y="790.4"/><use href="#d_ff00ff" x="474.4" y="823.7"/><use href="#d_ff00ff" x="474.4" y="814.3"/><use href="#d_ff00ff" x="474.4" y="589.5"/><use href="#d_ff00ff" x="474.4" y="793.1"/><use href="#d_ff00ff" x="474.4" y="837.9"/><use href="#d_ff00ff" x="474.4" y="901.4"/><use href="#d_ff00ff" x="474.4" y="872.1"/><use href="#d_ff00ff" x="474.4" y="812.3"/><use href="#d_ff00ff" x="474.4" y="713.5"/><use href="#d_ff00ff" x="474.4" y="784.0"/><use href="#d_ff00ff" x="474.4" y="740.8"/><use href="#d_ff00ff" x="474.4" y="783.6"/><use href="#d_ff00ff" x="474.4" y="764.5"/><use href="#d_ff00ff" x="474.4" y="770.9"/><use href="#d_ff00ff" x="474.4" y="856.0"/><use href="#d_ff00ff" x="474.4" y="797.4"/><use href="#d_ff00ff" x="474.4" y="704.0"/><use href="#d_ff00ff" x="474.4" y="818.2"/><use href="#d_ff00ff" x="474.4" y="749.9"/><use href="#d_ff00ff" x="474.4" y="777.3"/><use href="#d_ff00ff" x="474.4" y="696.4"/><use href="#d_ff00ff" x="474.4" y="903.7"/><use href="#d_ff00ff" x="474.4" y="883.3"/><use href="#d_ff00ff" x="474.4" y="710.3"/><use href="#d_ff00ff" x="474.4" y="601.5"/><use href="#d_ff00ff" x="474.4" y="747.5"/><use href="#d_ff00ff" x="474.4" y="830.5"/><use href="#d_ff00ff" x="474.4" y="847.8"/><use href="#d_ff00ff" x="474.4" y="843.1"/><use href="#d_ff00ff" x="474.4" y="834.4"/><use href="#d_ff00ff" x="474.4" y="862.5"/><use href="#d_ff00ff" x="474.4" y="781.5"/><use href="#d_ff00ff" x="474.4" y="745.2"/><use href="#d_ff00ff" x="474.4" y="804.4"/><use href="#d_ff00ff" x="474.4" y="773.7"/><use href="#d_ff00ff" x="474.4" y="800.7"/><use href="#d_ff00ff" x="474.4" y="852.2"/><use href="#d_ff00ff" x="474.4" y="768.9"/><use href="#d_ff00ff" x="474.4" y="797.6"/><use href="#d_ff00ff" x="474.4" y="590.4"/><use href="#d_ff00ff" x="474.4" y="709.1"/><use href="#d_ff00ff" x="474.4" y="918.7"/><use href="#d_ff00ff" x="474.4" y="821.1"/><use href="#d_ff00ff" x="474.4" y="718.7"/><use href="#d_ff00ff" x="474.4" y="831.1"/><use href="#d_ff00ff" x="474.4" y="774.0"/><use href="#d_ff00ff" x="474.4" y="777.8"/><use href="#d_ff00ff" x="474.4" y="827.0"/><use href="#d_ff00ff" x="474.4" y="916.8"/><use href="#d_ff00ff" x="474.4" y="706.9"/><use href="#d_ff00ff" x="474.4" y="737.0"/><use href="#d_ff00ff" x="474.4" y="816.2"/><use href="#d_ff00ff" x="474.4" y="793.0"/><use href="#d_ff00ff" x="474.4" y="694.8"/><use href="#d_ff00ff" x="474.4" y="774.6"/><use href="#d_ff00ff" x="474.4" y="878.0"/><use href="#d_ff00ff" x="474.4" y="754.7"/>
<rect x="37.0" y="1.3" width="304.80" height="461.80" fill="none" stroke="#333" stroke-width="1.1"/>
<line x1="34.2" y1="463.10" x2="37.0" y2="463.10" stroke="#333" stroke-width="1"/>
<line x1="32.5" y1="416.92" x2="37.0" y2="416.92" stroke="#333" stroke-width="1"/>
<text x="29.5" y="420.12" font-size="9.3" text-anchor="end" fill="#111">20</text>
<line x1="34.2" y1="370.74" x2="37.0" y2="370.74" stroke="#333" stroke-width="1"/>
<line x1="32.5" y1="324.56" x2="37.0" y2="324.56" stroke="#333" stroke-width="1"/>
<text x="29.5" y="327.76" font-size="9.3" text-anchor="end" fill="#111">40</text>
<line x1="34.2" y1="278.38" x2="37.0" y2="278.38" stroke="#333" stroke-width="1"/>
<line x1="32.5" y1="232.20" x2="37.0" y2="232.20" stroke="#333" stroke-width="1"/>
<text x="29.5" y="235.40" font-size="9.3" text-anchor="end" fill="#111">60</text>
<line x1="34.2" y1="186.02" x2="37.0" y2="186.02" stroke="#333" stroke-width="1"/>
<line x1="32.5" y1="139.84" x2="37.0" y2="139.84" stroke="#333" stroke-width="1"/>
<text x="29.5" y="143.04" font-size="9.3" text-anchor="end" fill="#111">80</text>
<line x1="34.2" y1="93.66" x2="37.0" y2="93.66" stroke="#333" stroke-width="1"/>
<line x1="32.5" y1="47.48" x2="37.0" y2="47.48" stroke="#333" stroke-width="1"/>
<text x="29.5" y="50.68" font-size="9.3" text-anchor="end" fill="#111">100</text>
<line x1="34.2" y1="1.30" x2="37.0" y2="1.30" stroke="#333" stroke-width="1"/>
<line x1="75.10" y1="463.1" x2="75.10" y2="467.40000000000003" stroke="#333" stroke-width="1"/>
<text x="75.10" y="478.00" font-size="9.6" text-anchor="middle" fill="#111">Measured</text>
<line x1="151.30" y1="463.1" x2="151.30" y2="467.40000000000003" stroke="#333" stroke-width="1"/>
<text x="151.30" y="478.00" font-size="9.6" text-anchor="middle" fill="#111">Train</text>
<line x1="227.50" y1="463.1" x2="227.50" y2="467.40000000000003" stroke="#333" stroke-width="1"/>
<text x="227.50" y="478.00" font-size="9.6" text-anchor="middle" fill="#111">Measured</text>
<line x1="303.70" y1="463.1" x2="303.70" y2="467.40000000000003" stroke="#333" stroke-width="1"/>
<text x="303.70" y="478.00" font-size="9.6" text-anchor="middle" fill="#111">Test</text>
<text transform="translate(10.399999999999999,232.20) rotate(-90)" font-size="12" text-anchor="middle" fill="#111">CS (Mpa)</text>
<rect x="378.4" y="1.3" width="305.00" height="461.80" fill="none" stroke="#333" stroke-width="1.1"/>
<line x1="375.59999999999997" y1="463.10" x2="378.4" y2="463.10" stroke="#333" stroke-width="1"/>
<line x1="373.9" y1="416.92" x2="378.4" y2="416.92" stroke="#333" stroke-width="1"/>
<text x="370.9" y="420.12" font-size="9.3" text-anchor="end" fill="#111">20</text>
<line x1="375.59999999999997" y1="370.74" x2="378.4" y2="370.74" stroke="#333" stroke-width="1"/>
<line x1="373.9" y1="324.56" x2="378.4" y2="324.56" stroke="#333" stroke-width="1"/>
<text x="370.9" y="327.76" font-size="9.3" text-anchor="end" fill="#111">40</text>
<line x1="375.59999999999997" y1="278.38" x2="378.4" y2="278.38" stroke="#333" stroke-width="1"/>
<line x1="373.9" y1="232.20" x2="378.4" y2="232.20" stroke="#333" stroke-width="1"/>
<text x="370.9" y="235.40" font-size="9.3" text-anchor="end" fill="#111">60</text>
<line x1="375.59999999999997" y1="186.02" x2="378.4" y2="186.02" stroke="#333" stroke-width="1"/>
<line x1="373.9" y1="139.84" x2="378.4" y2="139.84" stroke="#333" stroke-width="1"/>
<text x="370.9" y="143.04" font-size="9.3" text-anchor="end" fill="#111">80</text>
<line x1="375.59999999999997" y1="93.66" x2="378.4" y2="93.66" stroke="#333" stroke-width="1"/>
<line x1="373.9" y1="47.48" x2="378.4" y2="47.48" stroke="#333" stroke-width="1"/>
<text x="370.9" y="50.68" font-size="9.3" text-anchor="end" fill="#111">100</text>
<line x1="375.59999999999997" y1="1.30" x2="378.4" y2="1.30" stroke="#333" stroke-width="1"/>
<line x1="416.52" y1="463.1" x2="416.52" y2="467.40000000000003" stroke="#333" stroke-width="1"/>
<text x="416.52" y="478.00" font-size="9.6" text-anchor="middle" fill="#111">Measured</text>
<line x1="492.77" y1="463.1" x2="492.77" y2="467.40000000000003" stroke="#333" stroke-width="1"/>
<text x="492.77" y="478.00" font-size="9.6" text-anchor="middle" fill="#111">Train</text>
<line x1="569.02" y1="463.1" x2="569.02" y2="467.40000000000003" stroke="#333" stroke-width="1"/>
<text x="569.02" y="478.00" font-size="9.6" text-anchor="middle" fill="#111">Measured</text>
<line x1="645.27" y1="463.1" x2="645.27" y2="467.40000000000003" stroke="#333" stroke-width="1"/>
<text x="645.27" y="478.00" font-size="9.6" text-anchor="middle" fill="#111">Test</text>
<text transform="translate(351.79999999999995,232.20) rotate(-90)" font-size="12" text-anchor="middle" fill="#111">CS (Mpa)</text>
<rect x="207.4" y="489.2" width="305.10" height="462.00" fill="none" stroke="#333" stroke-width="1.1"/>
<line x1="204.6" y1="951.20" x2="207.4" y2="951.20" stroke="#333" stroke-width="1"/>
<line x1="202.9" y1="905.00" x2="207.4" y2="905.00" stroke="#333" stroke-width="1"/>
<text x="199.9" y="908.20" font-size="9.3" text-anchor="end" fill="#111">20</text>
<line x1="204.6" y1="858.80" x2="207.4" y2="858.80" stroke="#333" stroke-width="1"/>
<line x1="202.9" y1="812.60" x2="207.4" y2="812.60" stroke="#333" stroke-width="1"/>
<text x="199.9" y="815.80" font-size="9.3" text-anchor="end" fill="#111">40</text>
<line x1="204.6" y1="766.40" x2="207.4" y2="766.40" stroke="#333" stroke-width="1"/>
<line x1="202.9" y1="720.20" x2="207.4" y2="720.20" stroke="#333" stroke-width="1"/>
<text x="199.9" y="723.40" font-size="9.3" text-anchor="end" fill="#111">60</text>
<line x1="204.6" y1="674.00" x2="207.4" y2="674.00" stroke="#333" stroke-width="1"/>
<line x1="202.9" y1="627.80" x2="207.4" y2="627.80" stroke="#333" stroke-width="1"/>
<text x="199.9" y="631.00" font-size="9.3" text-anchor="end" fill="#111">80</text>
<line x1="204.6" y1="581.60" x2="207.4" y2="581.60" stroke="#333" stroke-width="1"/>
<line x1="202.9" y1="535.40" x2="207.4" y2="535.40" stroke="#333" stroke-width="1"/>
<text x="199.9" y="538.60" font-size="9.3" text-anchor="end" fill="#111">100</text>
<line x1="204.6" y1="489.20" x2="207.4" y2="489.20" stroke="#333" stroke-width="1"/>
<line x1="245.54" y1="951.2" x2="245.54" y2="955.5" stroke="#333" stroke-width="1"/>
<text x="245.54" y="966.10" font-size="9.6" text-anchor="middle" fill="#111">Measured</text>
<line x1="321.81" y1="951.2" x2="321.81" y2="955.5" stroke="#333" stroke-width="1"/>
<text x="321.81" y="966.10" font-size="9.6" text-anchor="middle" fill="#111">Train</text>
<line x1="398.09" y1="951.2" x2="398.09" y2="955.5" stroke="#333" stroke-width="1"/>
<text x="398.09" y="966.10" font-size="9.6" text-anchor="middle" fill="#111">Measured</text>
<line x1="474.36" y1="951.2" x2="474.36" y2="955.5" stroke="#333" stroke-width="1"/>
<text x="474.36" y="966.10" font-size="9.6" text-anchor="middle" fill="#111">Test</text>
<text transform="translate(180.8,720.20) rotate(-90)" font-size="12" text-anchor="middle" fill="#111">CS (Mpa)</text>
<rect x="160.1" y="106.8" width="51.2" height="22.8" fill="#000"/>
<rect x="158.1" y="104.5" width="51.2" height="22.8" fill="#fff" stroke="#222" stroke-width="0.9"/>
<text x="183.70" y="121.30" font-size="16.8" font-weight="bold" text-anchor="middle" fill="#000" textLength="45.9" lengthAdjust="spacingAndGlyphs">SVAM</text>
<rect x="501.6" y="106.89999999999999" width="44.1" height="22.6" fill="#000"/>
<rect x="499.6" y="104.6" width="44.1" height="22.6" fill="#fff" stroke="#222" stroke-width="0.9"/>
<text x="521.65" y="121.40" font-size="16.8" font-weight="bold" text-anchor="middle" fill="#000" textLength="39.4" lengthAdjust="spacingAndGlyphs">SVES</text>
<rect x="332.7" y="595.6999999999999" width="48.9" height="22.5" fill="#000"/>
<rect x="330.7" y="593.4" width="48.9" height="22.5" fill="#fff" stroke="#222" stroke-width="0.9"/>
<text x="355.15" y="610.20" font-size="16.8" font-weight="bold" text-anchor="middle" fill="#000" textLength="43.1" lengthAdjust="spacingAndGlyphs">SVSM</text>
</svg></body></html>
